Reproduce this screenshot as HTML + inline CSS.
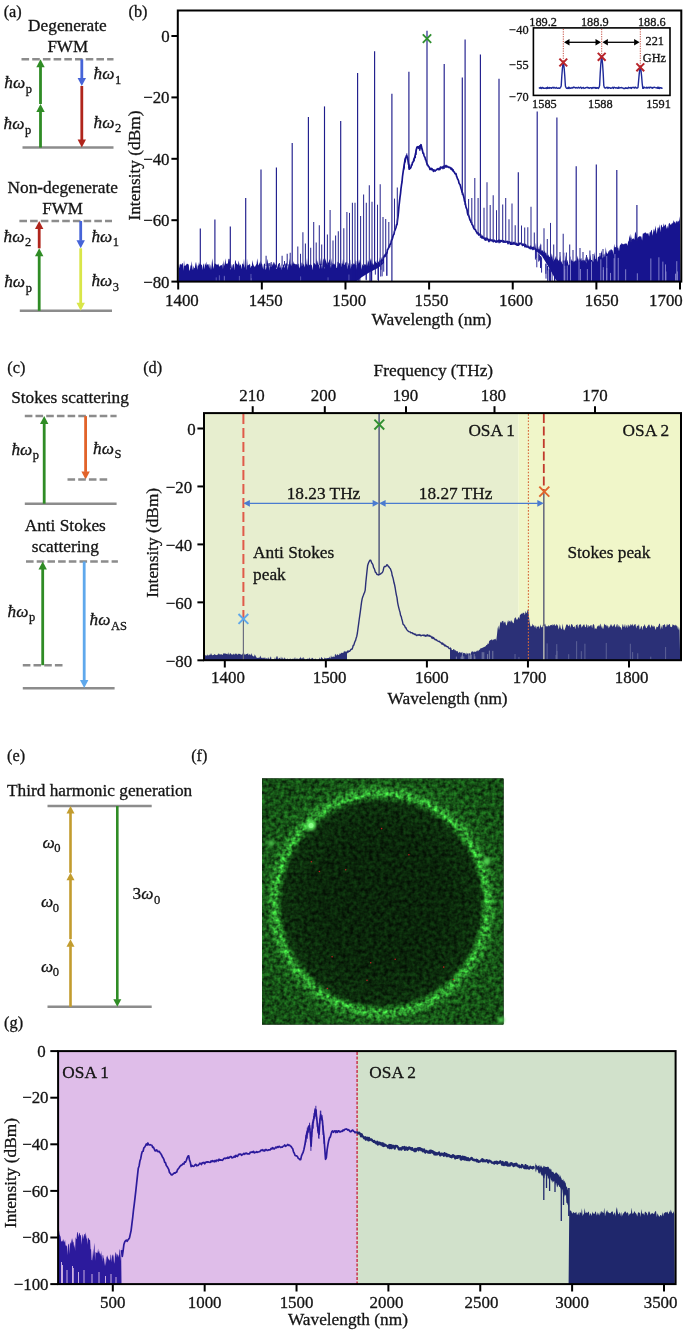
<!DOCTYPE html>
<html><head><meta charset="utf-8"><style>
html,body{margin:0;padding:0;background:#fff;}
svg{display:block;font-family:"Liberation Serif",serif;filter:blur(0.4px);}
text{stroke:#141414;stroke-width:0.3px;}
</style></head><body>
<svg width="685" height="1335" viewBox="0 0 685 1335">
<rect width="685" height="1335" fill="#fff"/>
<text x="3.70" y="16.80" font-size="16.3" fill="#141414" >(a)</text>
<text x="28.10" y="30.60" font-size="17.3" fill="#141414" >Degenerate</text>
<text x="47.40" y="51.70" font-size="17.0" fill="#141414" >FWM</text>
<line x1="21.50" y1="59.30" x2="113.50" y2="59.30" stroke="#8c8c8c" stroke-width="2.5" stroke-dasharray="7.6,3.1"/>
<line x1="22.50" y1="147.60" x2="113.50" y2="147.60" stroke="#8c8c8c" stroke-width="2.5" />
<line x1="40.50" y1="147.60" x2="40.50" y2="111.50" stroke="#2f8c25" stroke-width="2.8" />
<polygon points="36.3,112.0 44.7,112.0 40.5,104.0" fill="#2f8c25" />
<line x1="40.50" y1="104.00" x2="40.50" y2="66.80" stroke="#2f8c25" stroke-width="2.8" />
<polygon points="36.3,67.3 44.7,67.3 40.5,59.3" fill="#2f8c25" />
<line x1="81.80" y1="59.30" x2="81.80" y2="78.50" stroke="#4664d8" stroke-width="2.8" />
<polygon points="77.6,78.0 86.0,78.0 81.8,86.0" fill="#4664d8" />
<line x1="81.80" y1="86.00" x2="81.80" y2="140.10" stroke="#b0251c" stroke-width="2.8" />
<polygon points="77.6,139.6 86.0,139.6 81.8,147.6" fill="#b0251c" />
<text x="4.30" y="88.40" font-size="17.3" fill="#141414"><tspan font-style="italic">ħω</tspan><tspan font-size="12.5" dx="0.6" dy="4.4">p</tspan></text>
<text x="3.60" y="129.10" font-size="17.3" fill="#141414"><tspan font-style="italic">ħω</tspan><tspan font-size="12.5" dx="0.6" dy="4.4">p</tspan></text>
<text x="93.50" y="79.10" font-size="17.3" fill="#141414"><tspan font-style="italic">ħω</tspan><tspan font-size="12.5" dx="0.6" dy="4.4">1</tspan></text>
<text x="93.50" y="127.60" font-size="17.3" fill="#141414"><tspan font-style="italic">ħω</tspan><tspan font-size="12.5" dx="0.6" dy="4.4">2</tspan></text>
<text x="7.60" y="193.30" font-size="17.3" fill="#141414" >Non-degenerate</text>
<text x="42.30" y="214.40" font-size="17.0" fill="#141414" >FWM</text>
<line x1="19.40" y1="221.00" x2="112.00" y2="221.00" stroke="#8c8c8c" stroke-width="2.5" stroke-dasharray="7.6,3.1"/>
<line x1="19.80" y1="310.80" x2="112.00" y2="310.80" stroke="#8c8c8c" stroke-width="2.5" />
<line x1="39.20" y1="310.80" x2="39.20" y2="255.80" stroke="#2f8c25" stroke-width="2.8" />
<polygon points="35.0,256.3 43.4,256.3 39.2,248.3" fill="#2f8c25" />
<line x1="39.20" y1="248.30" x2="39.20" y2="228.50" stroke="#b0251c" stroke-width="2.8" />
<polygon points="35.0,229.0 43.4,229.0 39.2,221.0" fill="#b0251c" />
<line x1="80.70" y1="221.00" x2="80.70" y2="240.80" stroke="#4664d8" stroke-width="2.8" />
<polygon points="76.5,240.3 84.9,240.3 80.7,248.3" fill="#4664d8" />
<line x1="80.70" y1="248.30" x2="80.70" y2="303.30" stroke="#d9e649" stroke-width="2.8" />
<polygon points="76.5,302.8 84.9,302.8 80.7,310.8" fill="#d9e649" />
<text x="3.60" y="241.50" font-size="17.3" fill="#141414"><tspan font-style="italic">ħω</tspan><tspan font-size="12.5" dx="0.6" dy="4.4">2</tspan></text>
<text x="4.20" y="287.40" font-size="17.3" fill="#141414"><tspan font-style="italic">ħω</tspan><tspan font-size="12.5" dx="0.6" dy="4.4">p</tspan></text>
<text x="91.40" y="241.50" font-size="17.3" fill="#141414"><tspan font-style="italic">ħω</tspan><tspan font-size="12.5" dx="0.6" dy="4.4">1</tspan></text>
<text x="91.40" y="286.20" font-size="17.3" fill="#141414"><tspan font-style="italic">ħω</tspan><tspan font-size="12.5" dx="0.6" dy="4.4">3</tspan></text>
<text x="7.30" y="372.90" font-size="16.3" fill="#141414" >(c)</text>
<text x="143.20" y="372.90" font-size="16.3" fill="#141414" >(d)</text>
<text x="11.20" y="402.90" font-size="17.3" fill="#141414" >Stokes scattering</text>
<line x1="24.80" y1="416.10" x2="116.60" y2="416.10" stroke="#8c8c8c" stroke-width="2.5" stroke-dasharray="7.6,3.1"/>
<line x1="24.80" y1="503.70" x2="116.60" y2="503.70" stroke="#8c8c8c" stroke-width="2.5" />
<line x1="44.20" y1="503.70" x2="44.20" y2="423.60" stroke="#2f8c25" stroke-width="2.8" />
<polygon points="40.0,424.1 48.4,424.1 44.2,416.1" fill="#2f8c25" />
<line x1="85.60" y1="416.10" x2="85.60" y2="471.90" stroke="#e2632a" stroke-width="2.8" />
<polygon points="81.4,471.4 89.8,471.4 85.6,479.4" fill="#e2632a" />
<line x1="67.50" y1="479.40" x2="108.40" y2="479.40" stroke="#8c8c8c" stroke-width="2.5" stroke-dasharray="7.6,3.1"/>
<text x="11.40" y="454.80" font-size="17.3" fill="#141414"><tspan font-style="italic">ħω</tspan><tspan font-size="12.5" dx="0.6" dy="4.4">p</tspan></text>
<text x="93.00" y="453.90" font-size="17.3" fill="#141414"><tspan font-style="italic">ħω</tspan><tspan font-size="12.5" dx="0.6" dy="4.4">S</tspan></text>
<text x="24.70" y="530.90" font-size="17.3" fill="#141414" >Anti Stokes</text>
<text x="31.70" y="551.70" font-size="17.3" fill="#141414" >scattering</text>
<line x1="26.00" y1="561.50" x2="117.90" y2="561.50" stroke="#8c8c8c" stroke-width="2.5" stroke-dasharray="7.6,3.1"/>
<line x1="22.80" y1="665.20" x2="64.00" y2="665.20" stroke="#8c8c8c" stroke-width="2.5" stroke-dasharray="7.6,3.1"/>
<line x1="22.80" y1="688.20" x2="114.60" y2="688.20" stroke="#8c8c8c" stroke-width="2.5" />
<line x1="42.70" y1="665.20" x2="42.70" y2="569.00" stroke="#2f8c25" stroke-width="2.8" />
<polygon points="38.5,569.5 46.9,569.5 42.7,561.5" fill="#2f8c25" />
<line x1="84.20" y1="561.50" x2="84.20" y2="680.50" stroke="#5fa8ec" stroke-width="2.8" />
<polygon points="80.0,680.0 88.4,680.0 84.2,688.0" fill="#5fa8ec" />
<text x="7.60" y="616.80" font-size="17.3" fill="#141414"><tspan font-style="italic">ħω</tspan><tspan font-size="12.5" dx="0.6" dy="4.4">p</tspan></text>
<text x="89.60" y="625.30" font-size="17.3" fill="#141414"><tspan font-style="italic">ħω</tspan><tspan font-size="12.5" dx="0.6" dy="4.4">AS</tspan></text>
<text x="7.00" y="760.60" font-size="16.3" fill="#141414" >(e)</text>
<text x="191.20" y="760.60" font-size="16.3" fill="#141414" >(f)</text>
<text x="7.00" y="795.60" font-size="17.3" fill="#141414" >Third harmonic generation</text>
<line x1="47.50" y1="806.00" x2="151.70" y2="806.00" stroke="#8c8c8c" stroke-width="2.5" />
<line x1="47.50" y1="1006.80" x2="151.70" y2="1006.80" stroke="#8c8c8c" stroke-width="2.5" />
<line x1="70.50" y1="1006.80" x2="70.50" y2="946.20" stroke="#c29c2e" stroke-width="2.6" />
<polygon points="66.5,946.7 74.5,946.7 70.5,939.2" fill="#c29c2e" />
<line x1="70.50" y1="939.20" x2="70.50" y2="879.80" stroke="#c29c2e" stroke-width="2.6" />
<polygon points="66.5,880.3 74.5,880.3 70.5,872.8" fill="#c29c2e" />
<line x1="70.50" y1="872.80" x2="70.50" y2="813.00" stroke="#c29c2e" stroke-width="2.6" />
<polygon points="66.5,813.5 74.5,813.5 70.5,806.0" fill="#c29c2e" />
<line x1="117.30" y1="806.00" x2="117.30" y2="999.80" stroke="#2f8c25" stroke-width="2.6" />
<polygon points="113.3,999.3 121.3,999.3 117.3,1006.8" fill="#2f8c25" />
<text x="42.50" y="848.00" font-size="17.3" fill="#141414"><tspan font-style="italic">ω</tspan><tspan font-size="12.5" dx="-0.4" dy="4.4">0</tspan></text>
<text x="41.00" y="907.30" font-size="17.3" fill="#141414"><tspan font-style="italic">ω</tspan><tspan font-size="12.5" dx="-0.4" dy="4.4">0</tspan></text>
<text x="41.00" y="971.60" font-size="17.3" fill="#141414"><tspan font-style="italic">ω</tspan><tspan font-size="12.5" dx="-0.4" dy="4.4">0</tspan></text>
<text x="132.60" y="899.10" font-size="17.3" fill="#141414"><tspan>3</tspan><tspan font-style="italic">ω</tspan><tspan font-size="12.5" dx="0.6" dy="4.4">0</tspan></text>
<text x="128.50" y="17.10" font-size="16.3" fill="#141414" >(b)</text>
<polygon points="178.6,264.3 179.2,268.3 179.8,264.2 180.4,264.5 181.0,263.6 181.6,265.1 182.2,263.6 182.8,262.8 183.4,270.8 184.0,259.9 184.6,266.0 185.2,265.8 185.8,265.3 186.4,264.6 187.0,263.5 187.6,264.1 188.2,264.0 188.8,265.2 189.4,271.0 190.0,269.5 190.6,265.3 191.2,265.8 191.8,261.0 192.4,267.9 193.0,270.2 193.6,265.4 194.2,268.3 194.8,268.0 195.4,264.1 196.0,261.7 196.6,265.0 197.2,269.8 197.8,265.3 198.4,265.8 199.0,262.1 199.6,264.7 200.2,263.8 200.8,264.1 201.4,264.7 202.0,265.2 202.6,270.0 203.2,263.3 203.8,264.8 204.4,269.2 205.0,263.0 205.6,265.2 206.2,261.4 206.8,265.8 207.4,264.3 208.0,264.2 208.6,264.6 209.2,268.4 209.8,263.4 210.4,265.5 211.0,270.1 211.6,265.4 212.2,258.3 212.8,263.1 213.4,269.0 214.0,265.7 214.6,263.1 215.2,263.9 215.8,263.5 216.4,265.1 217.0,263.8 217.6,265.3 218.2,263.4 218.8,265.2 219.4,267.0 220.0,265.2 220.6,265.8 221.2,264.9 221.8,265.6 222.4,263.3 223.0,269.3 223.6,260.1 224.2,265.9 224.8,263.3 225.4,258.2 226.0,264.1 226.6,263.8 227.2,263.0 227.8,264.4 228.4,258.5 229.0,259.5 229.6,258.4 230.2,263.9 230.8,270.4 231.4,263.6 232.0,268.9 232.6,264.9 233.2,264.2 233.8,264.1 234.4,270.4 235.0,261.1 235.6,260.1 236.2,263.5 236.8,263.7 237.4,264.2 238.0,265.3 238.6,260.5 239.2,263.2 239.8,266.0 240.4,264.0 241.0,265.5 241.6,269.3 242.2,263.3 242.8,264.0 243.4,264.7 244.0,258.4 244.6,267.9 245.2,265.1 245.8,264.5 246.4,270.2 247.0,258.2 247.6,265.5 248.2,265.2 248.8,264.8 249.4,264.5 250.0,263.5 250.6,268.3 251.2,265.9 251.8,266.2 252.4,260.1 253.0,263.6 253.6,265.6 254.2,265.9 254.8,267.2 255.4,265.9 256.0,264.7 256.6,264.0 257.2,258.2 257.8,262.0 258.4,265.5 259.0,264.6 259.6,262.1 260.2,265.0 260.8,260.4 261.4,263.7 262.0,263.6 262.6,266.4 263.2,269.6 263.8,264.6 264.4,263.2 265.0,264.2 265.6,269.9 266.2,268.2 266.8,261.9 267.4,258.8 268.0,263.7 268.6,263.2 269.2,270.8 269.8,263.5 270.4,263.1 271.0,267.6 271.6,264.5 272.2,263.5 272.8,265.8 273.4,262.5 274.0,262.0 274.6,263.5 275.2,265.4 275.8,263.6 276.4,269.2 277.0,268.3 277.6,266.2 278.2,264.2 278.8,263.6 279.4,264.2 280.0,268.5 280.6,264.6 281.2,270.2 281.8,263.2 282.4,268.3 283.0,265.1 283.6,264.2 284.2,265.6 284.8,268.3 285.4,263.3 286.0,264.2 286.6,262.3 287.2,264.4 287.8,270.3 288.4,264.2 289.0,264.3 289.6,258.1 290.2,264.7 290.8,263.8 291.4,266.3 292.0,262.5 292.6,264.9 293.2,261.0 293.8,263.7 294.4,263.4 295.0,264.0 295.6,265.0 296.2,264.2 296.8,264.3 297.4,265.1 298.0,263.6 298.6,263.9 299.2,268.6 299.8,266.7 300.4,258.4 301.0,267.1 301.6,262.7 302.2,262.5 302.8,266.1 303.4,263.3 304.0,265.1 304.6,267.5 305.2,261.8 305.8,263.3 306.4,264.8 307.0,257.8 307.6,265.9 308.2,263.1 308.8,263.3 309.4,265.1 310.0,265.2 310.6,263.8 311.2,264.9 311.8,264.7 312.4,270.2 313.0,265.7 313.6,262.4 314.2,263.0 314.8,263.8 315.4,263.9 316.0,265.2 316.6,258.0 317.2,263.8 317.8,260.2 318.4,264.7 319.0,265.1 319.6,269.2 320.2,257.8 320.8,263.9 321.4,263.6 322.0,269.1 322.6,262.4 323.2,258.2 323.8,260.1 324.4,269.5 325.0,258.2 325.6,260.0 326.2,261.7 326.8,263.6 327.4,264.0 328.0,263.1 328.6,262.2 329.2,260.3 329.8,259.1 330.4,263.8 331.0,268.2 331.6,258.1 332.2,265.1 332.8,262.7 333.4,263.7 334.0,264.3 334.6,264.6 335.2,262.2 335.8,263.4 336.4,267.7 337.0,268.0 337.6,261.5 338.2,262.6 338.8,262.0 339.4,263.4 340.0,263.3 340.6,264.6 341.2,266.9 341.8,263.0 342.4,264.0 343.0,259.0 343.6,262.7 344.2,264.8 344.8,264.7 345.4,262.6 346.0,262.2 346.6,261.6 347.2,269.6 347.8,262.2 348.4,263.5 349.0,266.1 349.6,262.1 350.2,259.6 350.8,269.0 351.4,264.6 352.0,263.6 352.6,264.8 353.2,264.6 353.8,262.9 354.4,264.2 355.0,263.7 355.6,259.3 356.2,269.7 356.8,260.8 357.4,262.3 358.0,258.9 358.6,264.2 359.2,259.2 359.8,263.1 360.4,261.1 361.0,262.3 361.6,269.7 362.2,265.3 362.8,264.3 363.4,265.4 364.0,265.6 364.6,264.0 365.2,264.2 365.8,264.8 366.4,265.3 367.0,259.3 367.6,266.0 368.2,260.2 368.8,262.1 369.4,265.3 370.0,261.1 370.6,257.9 371.2,264.1 371.8,258.0 372.4,264.4 373.0,262.7 373.6,265.0 374.2,263.7 374.8,260.5 375.4,261.4 376.0,262.5 376.6,263.3 377.2,257.4 377.8,263.2 378.4,261.1 379.0,262.6 379.6,256.9 380.2,267.1 380.8,264.3 381.4,256.8 382.0,259.2 382.6,263.8 383.2,257.3 383.8,256.3 384.0,263.0 378.0,268.0 370.0,272.0 362.0,277.0 356.0,281.6 178.5,281.6" fill="#17148f" />
<line x1="366.24" y1="266.34" x2="366.24" y2="280.36" stroke="#17148f" stroke-width="0.9" />
<line x1="359.02" y1="264.99" x2="359.02" y2="281.60" stroke="#17148f" stroke-width="0.9" />
<line x1="380.69" y1="262.15" x2="380.69" y2="276.57" stroke="#17148f" stroke-width="0.9" />
<line x1="382.11" y1="260.17" x2="382.11" y2="276.30" stroke="#17148f" stroke-width="0.9" />
<line x1="358.36" y1="264.98" x2="358.36" y2="281.60" stroke="#17148f" stroke-width="0.9" />
<line x1="383.71" y1="257.53" x2="383.71" y2="271.70" stroke="#17148f" stroke-width="0.9" />
<line x1="352.80" y1="264.93" x2="352.80" y2="281.60" stroke="#17148f" stroke-width="0.9" />
<line x1="371.59" y1="265.64" x2="371.59" y2="280.68" stroke="#17148f" stroke-width="0.9" />
<line x1="386.79" y1="252.38" x2="386.79" y2="275.61" stroke="#17148f" stroke-width="0.9" />
<line x1="380.96" y1="262.02" x2="380.96" y2="269.79" stroke="#17148f" stroke-width="0.9" />
<line x1="371.69" y1="265.62" x2="371.69" y2="281.60" stroke="#17148f" stroke-width="0.9" />
<line x1="355.03" y1="264.95" x2="355.03" y2="280.68" stroke="#17148f" stroke-width="0.9" />
<line x1="378.53" y1="263.23" x2="378.53" y2="281.60" stroke="#17148f" stroke-width="0.9" />
<line x1="355.05" y1="264.95" x2="355.05" y2="281.60" stroke="#17148f" stroke-width="0.9" />
<line x1="357.18" y1="264.97" x2="357.18" y2="281.60" stroke="#17148f" stroke-width="0.9" />
<line x1="375.36" y1="264.82" x2="375.36" y2="274.62" stroke="#17148f" stroke-width="0.9" />
<line x1="359.94" y1="265.00" x2="359.94" y2="281.60" stroke="#17148f" stroke-width="0.9" />
<line x1="370.78" y1="265.79" x2="370.78" y2="281.60" stroke="#17148f" stroke-width="0.9" />
<line x1="366.20" y1="266.33" x2="366.20" y2="279.68" stroke="#17148f" stroke-width="0.9" />
<line x1="386.86" y1="252.23" x2="386.86" y2="275.88" stroke="#17148f" stroke-width="0.9" />
<line x1="369.77" y1="265.98" x2="369.77" y2="281.01" stroke="#17148f" stroke-width="0.9" />
<line x1="377.95" y1="263.52" x2="377.95" y2="280.04" stroke="#17148f" stroke-width="0.9" />
<polygon points="535.0,250.8 535.7,242.4 536.4,252.9 537.1,241.6 537.8,252.8 538.5,248.4 539.2,245.3 539.9,250.6 540.6,242.4 541.3,251.4 542.0,251.1 542.7,249.9 543.4,252.4 544.1,251.9 544.8,250.2 545.5,253.4 546.2,252.5 546.9,255.4 547.6,255.6 548.3,254.6 549.0,256.5 549.7,256.9 550.4,255.9 551.1,257.0 551.8,253.3 552.5,257.0 553.2,261.5 553.9,257.8 554.6,260.2 555.3,258.1 556.0,255.8 556.7,259.7 557.4,258.4 558.1,260.8 558.8,260.2 559.5,259.4 560.2,255.3 560.9,261.6 561.6,261.4 562.3,264.4 563.0,259.5 563.7,261.0 564.4,260.5 565.1,260.5 565.8,255.1 566.5,262.4 567.2,259.8 567.9,262.0 568.6,265.6 569.3,264.4 570.0,257.6 570.7,263.4 571.4,258.7 572.1,261.3 572.8,260.4 573.5,261.8 574.2,261.8 574.9,260.5 575.6,260.5 576.3,261.3 577.0,259.5 577.7,255.4 578.4,261.1 579.1,257.8 579.8,260.8 580.5,259.1 581.2,257.7 581.9,261.0 582.6,260.1 583.3,260.6 584.0,259.6 584.7,260.9 585.4,256.4 586.1,263.5 586.8,256.2 587.5,257.5 588.2,260.7 588.9,258.7 589.6,259.5 590.3,254.1 591.0,259.8 591.7,260.0 592.4,260.1 593.1,261.9 593.8,258.2 594.5,252.1 595.2,258.7 595.9,259.3 596.6,257.0 597.3,261.9 598.0,256.6 598.7,257.1 599.4,255.9 600.1,256.4 600.8,254.8 601.5,250.2 602.2,254.3 602.9,258.5 603.6,254.5 604.3,253.5 605.0,257.4 605.7,247.0 606.4,251.9 607.1,253.8 607.8,253.4 608.5,251.6 609.2,250.5 609.9,251.5 610.6,249.5 611.3,249.3 612.0,249.9 612.7,250.4 613.4,254.8 614.1,243.8 614.8,247.5 615.5,246.9 616.2,247.4 616.9,244.6 617.6,248.1 618.3,247.4 619.0,251.2 619.7,246.1 620.4,244.4 621.1,244.5 621.8,242.8 622.5,244.2 623.2,244.1 623.9,244.4 624.6,243.8 625.3,243.3 626.0,243.9 626.7,243.3 627.4,245.8 628.1,241.8 628.8,240.7 629.5,234.9 630.2,239.1 630.9,233.7 631.6,240.2 632.3,238.5 633.0,239.3 633.7,237.9 634.4,240.1 635.1,231.6 635.8,233.0 636.5,234.4 637.2,238.7 637.9,237.3 638.6,237.1 639.3,235.8 640.0,236.9 640.7,236.1 641.4,236.7 642.1,240.4 642.8,233.6 643.5,233.5 644.2,233.3 644.9,232.5 645.6,232.5 646.3,232.9 647.0,234.2 647.7,233.0 648.4,233.4 649.1,236.5 649.8,231.9 650.5,232.5 651.2,229.7 651.9,230.6 652.6,235.7 653.3,230.9 654.0,228.5 654.7,231.8 655.4,225.6 656.1,229.9 656.8,234.1 657.5,227.9 658.2,226.9 658.9,228.9 659.6,224.1 660.3,232.2 661.0,224.6 661.7,225.3 662.4,227.6 663.1,226.7 663.8,223.3 664.5,226.5 665.2,224.6 665.9,224.8 666.6,228.9 667.3,225.4 668.0,228.8 668.7,224.0 669.4,222.7 670.1,223.9 670.8,225.1 671.5,224.1 672.2,222.4 672.9,223.7 673.6,219.9 674.3,222.5 675.0,221.2 675.7,223.8 676.4,221.2 677.1,220.4 677.8,222.5 678.5,220.9 679.2,220.6 679.9,216.2 680.5,281.6 557.0,281.6 553.0,275.0 548.0,266.0 542.0,256.0 535.0,250.0" fill="#17148f" />
<line x1="547.64" y1="266.16" x2="547.64" y2="281.60" stroke="#17148f" stroke-width="0.9" />
<line x1="552.11" y1="272.57" x2="552.11" y2="281.60" stroke="#17148f" stroke-width="0.9" />
<line x1="558.79" y1="279.60" x2="558.79" y2="281.60" stroke="#17148f" stroke-width="0.9" />
<line x1="554.49" y1="276.00" x2="554.49" y2="281.60" stroke="#17148f" stroke-width="0.9" />
<line x1="550.20" y1="269.84" x2="550.20" y2="277.13" stroke="#17148f" stroke-width="0.9" />
<line x1="546.01" y1="263.82" x2="546.01" y2="278.64" stroke="#17148f" stroke-width="0.9" />
<line x1="554.66" y1="276.24" x2="554.66" y2="281.60" stroke="#17148f" stroke-width="0.9" />
<line x1="540.90" y1="256.47" x2="540.90" y2="267.32" stroke="#17148f" stroke-width="0.9" />
<line x1="540.53" y1="255.94" x2="540.53" y2="268.07" stroke="#17148f" stroke-width="0.9" />
<line x1="547.47" y1="265.92" x2="547.47" y2="270.41" stroke="#17148f" stroke-width="0.9" />
<line x1="549.92" y1="269.43" x2="549.92" y2="281.60" stroke="#17148f" stroke-width="0.9" />
<line x1="549.32" y1="268.56" x2="549.32" y2="281.60" stroke="#17148f" stroke-width="0.9" />
<line x1="539.50" y1="254.46" x2="539.50" y2="260.59" stroke="#17148f" stroke-width="0.9" />
<line x1="535.44" y1="248.64" x2="535.44" y2="259.58" stroke="#17148f" stroke-width="0.9" />
<line x1="545.87" y1="263.61" x2="545.87" y2="273.79" stroke="#17148f" stroke-width="0.9" />
<line x1="541.57" y1="257.44" x2="541.57" y2="272.62" stroke="#17148f" stroke-width="0.9" />
<line x1="536.81" y1="250.60" x2="536.81" y2="267.31" stroke="#17148f" stroke-width="0.9" />
<line x1="549.22" y1="268.43" x2="549.22" y2="280.03" stroke="#17148f" stroke-width="0.9" />
<line x1="554.79" y1="276.43" x2="554.79" y2="281.60" stroke="#17148f" stroke-width="0.9" />
<line x1="538.66" y1="253.25" x2="538.66" y2="261.61" stroke="#17148f" stroke-width="0.9" />
<line x1="536.06" y1="249.52" x2="536.06" y2="257.92" stroke="#17148f" stroke-width="0.9" />
<line x1="550.53" y1="270.31" x2="550.53" y2="281.60" stroke="#17148f" stroke-width="0.9" />
<line x1="591.50" y1="280.60" x2="591.50" y2="261.65" stroke="#8c8ad0" stroke-width="0.9" />
<line x1="570.53" y1="280.60" x2="570.53" y2="256.55" stroke="#8c8ad0" stroke-width="0.9" />
<line x1="580.42" y1="280.60" x2="580.42" y2="268.99" stroke="#8c8ad0" stroke-width="0.9" />
<line x1="579.02" y1="280.60" x2="579.02" y2="259.41" stroke="#8c8ad0" stroke-width="0.9" />
<line x1="658.88" y1="280.60" x2="658.88" y2="257.29" stroke="#8c8ad0" stroke-width="0.9" />
<line x1="567.28" y1="280.60" x2="567.28" y2="265.57" stroke="#8c8ad0" stroke-width="0.9" />
<line x1="603.37" y1="280.60" x2="603.37" y2="269.84" stroke="#8c8ad0" stroke-width="0.9" />
<line x1="675.49" y1="280.60" x2="675.49" y2="273.67" stroke="#8c8ad0" stroke-width="0.9" />
<line x1="618.26" y1="280.60" x2="618.26" y2="257.85" stroke="#8c8ad0" stroke-width="0.9" />
<line x1="677.36" y1="280.60" x2="677.36" y2="271.42" stroke="#8c8ad0" stroke-width="0.9" />
<line x1="614.18" y1="280.60" x2="614.18" y2="258.21" stroke="#8c8ad0" stroke-width="0.9" />
<line x1="564.67" y1="280.60" x2="564.67" y2="269.31" stroke="#8c8ad0" stroke-width="0.9" />
<line x1="665.92" y1="280.60" x2="665.92" y2="271.49" stroke="#8c8ad0" stroke-width="0.9" />
<line x1="606.76" y1="280.60" x2="606.76" y2="268.04" stroke="#8c8ad0" stroke-width="0.9" />
<line x1="610.51" y1="280.60" x2="610.51" y2="272.92" stroke="#8c8ad0" stroke-width="0.9" />
<line x1="564.08" y1="280.60" x2="564.08" y2="252.69" stroke="#8c8ad0" stroke-width="0.9" />
<line x1="650.83" y1="280.60" x2="650.83" y2="258.45" stroke="#8c8ad0" stroke-width="0.9" />
<line x1="587.36" y1="280.60" x2="587.36" y2="269.03" stroke="#8c8ad0" stroke-width="0.9" />
<line x1="625.67" y1="280.60" x2="625.67" y2="269.28" stroke="#8c8ad0" stroke-width="0.9" />
<line x1="614.93" y1="280.60" x2="614.93" y2="254.09" stroke="#8c8ad0" stroke-width="0.9" />
<line x1="603.32" y1="280.60" x2="603.32" y2="267.18" stroke="#8c8ad0" stroke-width="0.9" />
<line x1="676.77" y1="280.60" x2="676.77" y2="261.16" stroke="#8c8ad0" stroke-width="0.9" />
<line x1="564.72" y1="280.60" x2="564.72" y2="265.73" stroke="#8c8ad0" stroke-width="0.9" />
<line x1="637.33" y1="280.60" x2="637.33" y2="273.31" stroke="#8c8ad0" stroke-width="0.9" />
<line x1="600.84" y1="280.60" x2="600.84" y2="259.32" stroke="#8c8ad0" stroke-width="0.9" />
<line x1="662.87" y1="280.60" x2="662.87" y2="261.61" stroke="#8c8ad0" stroke-width="0.9" />
<line x1="665.48" y1="280.60" x2="665.48" y2="264.42" stroke="#8c8ad0" stroke-width="0.9" />
<line x1="606.76" y1="280.60" x2="606.76" y2="256.05" stroke="#8c8ad0" stroke-width="0.9" />
<line x1="250.98" y1="280.60" x2="250.98" y2="273.91" stroke="#6a68c0" stroke-width="0.8" />
<line x1="224.46" y1="280.60" x2="224.46" y2="276.52" stroke="#6a68c0" stroke-width="0.8" />
<line x1="219.38" y1="280.60" x2="219.38" y2="275.30" stroke="#6a68c0" stroke-width="0.8" />
<line x1="216.22" y1="280.60" x2="216.22" y2="277.38" stroke="#6a68c0" stroke-width="0.8" />
<line x1="224.31" y1="280.60" x2="224.31" y2="275.79" stroke="#6a68c0" stroke-width="0.8" />
<line x1="239.37" y1="280.60" x2="239.37" y2="275.92" stroke="#6a68c0" stroke-width="0.8" />
<line x1="348.93" y1="280.60" x2="348.93" y2="274.52" stroke="#6a68c0" stroke-width="0.8" />
<line x1="328.04" y1="280.60" x2="328.04" y2="277.37" stroke="#6a68c0" stroke-width="0.8" />
<line x1="251.27" y1="280.60" x2="251.27" y2="278.16" stroke="#6a68c0" stroke-width="0.8" />
<line x1="300.62" y1="280.60" x2="300.62" y2="276.42" stroke="#6a68c0" stroke-width="0.8" />
<polyline points="380.0,262.0 380.5,261.1 381.0,261.2 381.5,260.6 382.0,260.1 382.5,260.5 383.0,259.2 383.5,257.3 384.0,256.7 384.5,255.4 385.0,256.5 385.5,254.2 386.0,254.4 386.5,253.5 387.0,252.9 387.5,249.6 388.0,249.1 388.5,248.1 389.0,246.1 389.5,246.9 390.0,244.4 390.5,244.2 391.0,242.4 391.5,240.1 392.0,239.8 392.5,238.2 393.0,236.2 393.5,234.8 394.0,234.2 394.5,231.2 395.0,230.2 395.5,228.8 396.0,227.5 396.5,224.8 397.0,224.6 397.5,220.1 398.0,216.6 398.5,211.9 399.0,206.0 399.5,201.6 400.0,197.2 400.5,193.6 401.0,188.7 401.5,184.8 402.0,182.0 402.5,176.5 403.0,172.8 403.5,169.4 404.0,166.3 404.5,163.0 405.0,160.2 405.5,159.1 406.0,157.0 406.5,155.5 407.0,156.5 407.5,157.2 408.0,160.6 408.5,164.3 409.0,165.7 409.5,169.1 410.0,168.3 410.5,168.2 411.0,167.2 411.5,164.9 412.0,165.0 412.5,162.5 413.0,162.1 413.5,160.8 414.0,158.8 414.5,158.3 415.0,155.9 415.5,154.1 416.0,151.3 416.5,148.8 417.0,147.1 417.5,147.0 418.0,146.6 418.5,148.0 419.0,147.2 419.5,146.4 420.0,146.4 420.5,146.0 421.0,144.7 421.5,146.7 422.0,149.1 422.5,150.8 423.0,153.2 423.5,153.2 424.0,155.5 424.5,156.8 425.0,157.4 425.5,159.6 426.0,160.1 426.5,162.3 427.0,163.7 427.5,164.6 428.0,165.5 428.5,166.5 429.0,166.8 429.5,167.8 430.0,169.4 430.5,168.8 431.0,168.4 431.5,169.6 432.0,168.7 432.5,169.6 433.0,170.2 433.5,171.3 434.0,170.0 434.5,170.4 435.0,171.1 435.5,170.5 436.0,170.0 436.5,169.9 437.0,169.2 437.5,169.1 438.0,168.6 438.5,169.7 439.0,169.7 439.5,168.3 440.0,169.4 440.5,167.2 441.0,167.2 441.5,167.9 442.0,167.3 442.5,167.2 443.0,168.5 443.5,166.4 444.0,166.3 444.5,166.2 445.0,167.1 445.5,166.0 446.0,165.5 446.5,166.9 447.0,166.6 447.5,166.3 448.0,167.0 448.5,167.4 449.0,167.2 449.5,167.5 450.0,167.4 450.5,168.3 451.0,169.2 451.5,168.2 452.0,168.8 452.5,170.6 453.0,169.8 453.5,171.3 454.0,171.8 454.5,172.4 455.0,173.6 455.5,173.9 456.0,173.7 456.5,176.1 457.0,177.2 457.5,178.7 458.0,179.5 458.5,180.7 459.0,183.1 459.5,183.9 460.0,184.6 460.5,186.3 461.0,188.2 461.5,189.6 462.0,192.1 462.5,192.8 463.0,194.4 463.5,196.1 464.0,197.9 464.5,201.2 465.0,201.7 465.5,204.4 466.0,207.1 466.5,208.3 467.0,209.5 467.5,213.1 468.0,215.0 468.5,214.9 469.0,216.5 469.5,218.3 470.0,220.1 470.5,220.3 471.0,222.3 471.5,222.3 472.0,224.6 472.5,224.9 473.0,225.9 473.5,227.7 474.0,228.6 474.5,229.3 475.0,229.4 475.5,229.8 476.0,231.2 476.5,231.8 477.0,233.0 477.5,233.7 478.0,232.8 478.5,234.0 479.0,235.0 479.5,234.3 480.0,234.6 480.5,234.6 481.0,236.3 481.5,237.5 482.0,238.0 482.5,236.3 483.0,238.0 483.5,237.7 484.0,238.5 484.5,238.2 485.0,239.7 485.5,240.0 486.0,238.0 486.5,239.8 487.0,238.6 487.5,238.6 488.0,239.4 488.5,240.7 489.0,241.6 489.5,239.5 490.0,240.1 490.5,239.4 491.0,240.7 491.5,240.6 492.0,240.3 492.5,240.2 493.0,241.4 493.5,241.6 494.0,240.3 494.5,240.6 495.0,241.2 495.5,241.6 496.0,242.1 496.5,240.7 497.0,241.5 497.5,241.2 498.0,241.8 498.5,240.3 499.0,240.4 499.5,240.3 500.0,242.3 500.5,240.7 501.0,241.4 501.5,240.6 502.0,241.2 502.5,240.5 503.0,241.9 503.5,241.0 504.0,242.2 504.5,241.5 505.0,241.4 505.5,242.1 506.0,241.9 506.5,241.8 507.0,241.4 507.5,241.5 508.0,243.6 508.5,242.2 509.0,241.8 509.5,242.1 510.0,242.9 510.5,244.2 511.0,242.4 511.5,244.1 512.0,243.3 512.5,243.2 513.0,244.2 513.5,243.2 514.0,242.5 514.5,243.7 515.0,244.1 515.5,244.1 516.0,243.3 516.5,244.9 517.0,244.8 517.5,245.2 518.0,243.9 518.5,244.9 519.0,244.7 519.5,243.5 520.0,243.2 520.5,243.6 521.0,243.6 521.5,243.5 522.0,244.3 522.5,245.4 523.0,244.5 523.5,245.1 524.0,244.1 524.5,244.7 525.0,246.7 525.5,244.6 526.0,246.0 526.5,246.8 527.0,246.9 527.5,247.0 528.0,246.3 528.5,247.4 529.0,247.7 529.5,247.7 530.0,248.4 530.5,246.4 531.0,248.7 531.5,247.6 532.0,248.5 532.5,247.6 533.0,249.4 533.5,247.4 534.0,248.9 534.5,248.3 535.0,248.9 535.5,249.0 536.0,249.9 536.5,250.5 537.0,249.6 537.5,250.5 538.0,250.0 538.5,250.0 539.0,251.7 539.5,250.5 540.0,250.1 540.5,250.9 541.0,252.2 541.5,251.3 542.0,252.9 542.5,252.8 543.0,253.5 543.5,252.6 544.0,252.8 544.5,253.2 545.0,254.1" stroke="#17148f" stroke-width="1.7" fill="none" stroke-linejoin="round" />
<line x1="405.58" y1="158.43" x2="405.58" y2="160.97" stroke="#17148f" stroke-width="1" />
<line x1="405.42" y1="158.16" x2="405.42" y2="161.73" stroke="#17148f" stroke-width="1" />
<line x1="408.71" y1="163.98" x2="408.71" y2="168.23" stroke="#17148f" stroke-width="1" />
<line x1="404.93" y1="159.45" x2="404.93" y2="163.04" stroke="#17148f" stroke-width="1" />
<line x1="408.93" y1="164.60" x2="408.93" y2="169.77" stroke="#17148f" stroke-width="1" />
<line x1="404.32" y1="163.92" x2="404.32" y2="168.27" stroke="#17148f" stroke-width="1" />
<line x1="404.07" y1="165.75" x2="404.07" y2="169.60" stroke="#17148f" stroke-width="1" />
<line x1="408.69" y1="163.45" x2="408.69" y2="165.97" stroke="#17148f" stroke-width="1" />
<line x1="405.14" y1="157.52" x2="405.14" y2="161.93" stroke="#17148f" stroke-width="1" />
<line x1="406.81" y1="153.37" x2="406.81" y2="157.44" stroke="#17148f" stroke-width="1" />
<line x1="416.12" y1="149.45" x2="416.12" y2="154.96" stroke="#17148f" stroke-width="1" />
<line x1="422.56" y1="149.00" x2="422.56" y2="153.41" stroke="#17148f" stroke-width="1" />
<line x1="419.68" y1="146.84" x2="419.68" y2="150.70" stroke="#17148f" stroke-width="1" />
<line x1="420.90" y1="144.31" x2="420.90" y2="148.67" stroke="#17148f" stroke-width="1" />
<line x1="418.19" y1="146.29" x2="418.19" y2="149.14" stroke="#17148f" stroke-width="1" />
<line x1="420.01" y1="145.06" x2="420.01" y2="149.32" stroke="#17148f" stroke-width="1" />
<line x1="414.32" y1="157.15" x2="414.32" y2="161.37" stroke="#17148f" stroke-width="1" />
<line x1="419.93" y1="145.08" x2="419.93" y2="150.66" stroke="#17148f" stroke-width="1" />
<line x1="415.52" y1="152.61" x2="415.52" y2="157.99" stroke="#17148f" stroke-width="1" />
<line x1="421.38" y1="145.10" x2="421.38" y2="149.25" stroke="#17148f" stroke-width="1" />
<line x1="266.10" y1="265.92" x2="266.10" y2="255.80" stroke="#2e2c92" stroke-width="1.05" />
<line x1="269.20" y1="265.88" x2="269.20" y2="263.00" stroke="#2e2c92" stroke-width="1.05" />
<line x1="271.20" y1="265.86" x2="271.20" y2="262.00" stroke="#2e2c92" stroke-width="1.05" />
<line x1="274.00" y1="265.82" x2="274.00" y2="264.00" stroke="#2e2c92" stroke-width="1.05" />
<line x1="279.50" y1="265.76" x2="279.50" y2="263.00" stroke="#2e2c92" stroke-width="1.05" />
<line x1="282.10" y1="265.72" x2="282.10" y2="255.80" stroke="#2e2c92" stroke-width="1.05" />
<line x1="284.50" y1="265.69" x2="284.50" y2="261.00" stroke="#2e2c92" stroke-width="1.05" />
<line x1="287.20" y1="265.66" x2="287.20" y2="253.80" stroke="#2e2c92" stroke-width="1.05" />
<line x1="290.20" y1="265.62" x2="290.20" y2="252.80" stroke="#2e2c92" stroke-width="1.05" />
<line x1="295.20" y1="265.56" x2="295.20" y2="264.00" stroke="#2e2c92" stroke-width="1.05" />
<line x1="297.80" y1="265.53" x2="297.80" y2="246.60" stroke="#2e2c92" stroke-width="1.05" />
<line x1="300.50" y1="265.49" x2="300.50" y2="253.80" stroke="#2e2c92" stroke-width="1.05" />
<line x1="302.90" y1="265.45" x2="302.90" y2="232.30" stroke="#2e2c92" stroke-width="1.05" />
<line x1="305.40" y1="265.41" x2="305.40" y2="243.60" stroke="#2e2c92" stroke-width="1.05" />
<line x1="310.70" y1="265.31" x2="310.70" y2="247.70" stroke="#2e2c92" stroke-width="1.05" />
<line x1="313.70" y1="265.26" x2="313.70" y2="222.10" stroke="#2e2c92" stroke-width="1.05" />
<line x1="316.20" y1="265.22" x2="316.20" y2="242.60" stroke="#2e2c92" stroke-width="1.05" />
<line x1="319.30" y1="265.16" x2="319.30" y2="225.20" stroke="#2e2c92" stroke-width="1.05" />
<line x1="321.70" y1="265.12" x2="321.70" y2="244.60" stroke="#2e2c92" stroke-width="1.05" />
<line x1="327.40" y1="265.02" x2="327.40" y2="234.40" stroke="#2e2c92" stroke-width="1.05" />
<line x1="330.10" y1="264.97" x2="330.10" y2="209.90" stroke="#2e2c92" stroke-width="1.05" />
<line x1="333.00" y1="264.92" x2="333.00" y2="240.50" stroke="#2e2c92" stroke-width="1.05" />
<line x1="335.60" y1="264.88" x2="335.60" y2="235.40" stroke="#2e2c92" stroke-width="1.05" />
<line x1="338.30" y1="264.83" x2="338.30" y2="231.30" stroke="#2e2c92" stroke-width="1.05" />
<line x1="343.80" y1="264.84" x2="343.80" y2="228.20" stroke="#2e2c92" stroke-width="1.05" />
<line x1="346.90" y1="264.87" x2="346.90" y2="211.90" stroke="#2e2c92" stroke-width="1.05" />
<line x1="349.50" y1="264.89" x2="349.50" y2="212.90" stroke="#2e2c92" stroke-width="1.05" />
<line x1="352.40" y1="264.92" x2="352.40" y2="202.70" stroke="#2e2c92" stroke-width="1.05" />
<line x1="355.00" y1="264.95" x2="355.00" y2="202.70" stroke="#2e2c92" stroke-width="1.05" />
<line x1="360.60" y1="265.13" x2="360.60" y2="216.00" stroke="#2e2c92" stroke-width="1.05" />
<line x1="363.60" y1="265.77" x2="363.60" y2="194.50" stroke="#2e2c92" stroke-width="1.05" />
<line x1="366.30" y1="266.35" x2="366.30" y2="202.70" stroke="#2e2c92" stroke-width="1.05" />
<line x1="369.30" y1="266.07" x2="369.30" y2="185.30" stroke="#2e2c92" stroke-width="1.05" />
<line x1="372.00" y1="265.56" x2="372.00" y2="201.70" stroke="#2e2c92" stroke-width="1.05" />
<line x1="377.50" y1="263.75" x2="377.50" y2="204.70" stroke="#2e2c92" stroke-width="1.05" />
<line x1="380.20" y1="262.40" x2="380.20" y2="184.30" stroke="#2e2c92" stroke-width="1.05" />
<line x1="383.00" y1="258.70" x2="383.00" y2="217.00" stroke="#2e2c92" stroke-width="1.05" />
<line x1="385.70" y1="254.25" x2="385.70" y2="219.00" stroke="#2e2c92" stroke-width="1.05" />
<line x1="388.80" y1="247.62" x2="388.80" y2="222.10" stroke="#2e2c92" stroke-width="1.05" />
<line x1="394.50" y1="232.32" x2="394.50" y2="198.60" stroke="#2e2c92" stroke-width="1.05" />
<line x1="397.30" y1="222.48" x2="397.30" y2="187.40" stroke="#2e2c92" stroke-width="1.05" />
<line x1="468.60" y1="216.17" x2="468.60" y2="198.90" stroke="#2e2c92" stroke-width="1.05" />
<line x1="471.80" y1="223.63" x2="471.80" y2="198.00" stroke="#2e2c92" stroke-width="1.05" />
<line x1="474.80" y1="228.98" x2="474.80" y2="178.00" stroke="#2e2c92" stroke-width="1.05" />
<line x1="478.10" y1="233.81" x2="478.10" y2="198.00" stroke="#2e2c92" stroke-width="1.05" />
<line x1="484.00" y1="238.18" x2="484.00" y2="207.80" stroke="#2e2c92" stroke-width="1.05" />
<line x1="487.00" y1="239.51" x2="487.00" y2="182.20" stroke="#2e2c92" stroke-width="1.05" />
<line x1="490.20" y1="240.49" x2="490.20" y2="204.90" stroke="#2e2c92" stroke-width="1.05" />
<line x1="493.20" y1="240.73" x2="493.20" y2="195.30" stroke="#2e2c92" stroke-width="1.05" />
<line x1="496.50" y1="240.99" x2="496.50" y2="210.20" stroke="#2e2c92" stroke-width="1.05" />
<line x1="502.70" y1="241.70" x2="502.70" y2="204.50" stroke="#2e2c92" stroke-width="1.05" />
<line x1="505.70" y1="242.21" x2="505.70" y2="198.00" stroke="#2e2c92" stroke-width="1.05" />
<line x1="509.00" y1="242.78" x2="509.00" y2="219.20" stroke="#2e2c92" stroke-width="1.05" />
<line x1="512.00" y1="243.30" x2="512.00" y2="203.60" stroke="#2e2c92" stroke-width="1.05" />
<line x1="515.20" y1="243.72" x2="515.20" y2="225.20" stroke="#2e2c92" stroke-width="1.05" />
<line x1="521.50" y1="244.53" x2="521.50" y2="225.50" stroke="#2e2c92" stroke-width="1.05" />
<line x1="524.70" y1="245.48" x2="524.70" y2="227.50" stroke="#2e2c92" stroke-width="1.05" />
<line x1="527.80" y1="246.48" x2="527.80" y2="227.30" stroke="#2e2c92" stroke-width="1.05" />
<line x1="531.00" y1="247.59" x2="531.00" y2="206.70" stroke="#2e2c92" stroke-width="1.05" />
<line x1="534.30" y1="248.88" x2="534.30" y2="232.40" stroke="#2e2c92" stroke-width="1.05" />
<line x1="540.80" y1="251.51" x2="540.80" y2="244.50" stroke="#2e2c92" stroke-width="1.05" />
<line x1="544.00" y1="253.74" x2="544.00" y2="228.30" stroke="#2e2c92" stroke-width="1.05" />
<line x1="547.30" y1="256.03" x2="547.30" y2="239.10" stroke="#2e2c92" stroke-width="1.05" />
<line x1="550.50" y1="258.26" x2="550.50" y2="222.90" stroke="#2e2c92" stroke-width="1.05" />
<line x1="553.70" y1="260.49" x2="553.70" y2="244.50" stroke="#2e2c92" stroke-width="1.05" />
<line x1="560.00" y1="261.90" x2="560.00" y2="252.00" stroke="#2e2c92" stroke-width="1.05" />
<line x1="563.20" y1="262.54" x2="563.20" y2="233.70" stroke="#2e2c92" stroke-width="1.05" />
<line x1="566.40" y1="263.18" x2="566.40" y2="252.60" stroke="#2e2c92" stroke-width="1.05" />
<line x1="569.70" y1="263.17" x2="569.70" y2="244.50" stroke="#2e2c92" stroke-width="1.05" />
<line x1="573.00" y1="262.83" x2="573.00" y2="250.00" stroke="#2e2c92" stroke-width="1.05" />
<line x1="580.00" y1="262.10" x2="580.00" y2="248.00" stroke="#2e2c92" stroke-width="1.05" />
<line x1="583.00" y1="261.70" x2="583.00" y2="252.00" stroke="#2e2c92" stroke-width="1.05" />
<line x1="586.50" y1="261.19" x2="586.50" y2="255.00" stroke="#2e2c92" stroke-width="1.05" />
<line x1="589.90" y1="260.68" x2="589.90" y2="250.50" stroke="#2e2c92" stroke-width="1.05" />
<line x1="593.00" y1="260.22" x2="593.00" y2="254.00" stroke="#2e2c92" stroke-width="1.05" />
<line x1="600.00" y1="257.56" x2="600.00" y2="253.00" stroke="#2e2c92" stroke-width="1.05" />
<line x1="603.00" y1="256.22" x2="603.00" y2="249.00" stroke="#2e2c92" stroke-width="1.05" />
<line x1="610.00" y1="252.81" x2="610.00" y2="250.00" stroke="#2e2c92" stroke-width="1.05" />
<line x1="631.00" y1="241.78" x2="631.00" y2="237.80" stroke="#2e2c92" stroke-width="1.05" />
<line x1="200.30" y1="268.00" x2="200.30" y2="228.60" stroke="#1e1c8c" stroke-width="1.15" />
<line x1="214.90" y1="268.00" x2="214.90" y2="219.50" stroke="#1e1c8c" stroke-width="1.15" />
<line x1="230.30" y1="268.00" x2="230.30" y2="226.60" stroke="#1e1c8c" stroke-width="1.15" />
<line x1="245.70" y1="268.00" x2="245.70" y2="197.90" stroke="#1e1c8c" stroke-width="1.15" />
<line x1="261.00" y1="267.99" x2="261.00" y2="169.50" stroke="#1e1c8c" stroke-width="1.15" />
<line x1="276.40" y1="267.80" x2="276.40" y2="167.50" stroke="#1e1c8c" stroke-width="1.15" />
<line x1="292.20" y1="267.60" x2="292.20" y2="143.00" stroke="#1e1c8c" stroke-width="1.15" />
<line x1="308.40" y1="267.35" x2="308.40" y2="117.00" stroke="#1e1c8c" stroke-width="1.15" />
<line x1="324.50" y1="267.07" x2="324.50" y2="106.40" stroke="#1e1c8c" stroke-width="1.15" />
<line x1="340.70" y1="266.81" x2="340.70" y2="121.00" stroke="#1e1c8c" stroke-width="1.15" />
<line x1="357.60" y1="266.98" x2="357.60" y2="72.90" stroke="#1e1c8c" stroke-width="1.15" />
<line x1="374.60" y1="267.07" x2="374.60" y2="51.20" stroke="#1e1c8c" stroke-width="1.15" />
<line x1="408.90" y1="167.73" x2="408.90" y2="71.70" stroke="#1e1c8c" stroke-width="1.15" />
<line x1="427.00" y1="165.54" x2="427.00" y2="30.70" stroke="#1e1c8c" stroke-width="1.15" />
<line x1="444.20" y1="168.95" x2="444.20" y2="63.90" stroke="#1e1c8c" stroke-width="1.15" />
<line x1="462.30" y1="195.06" x2="462.30" y2="77.60" stroke="#1e1c8c" stroke-width="1.15" />
<line x1="465.10" y1="204.98" x2="465.10" y2="39.40" stroke="#1e1c8c" stroke-width="1.15" />
<line x1="480.40" y1="237.65" x2="480.40" y2="54.40" stroke="#1e1c8c" stroke-width="1.15" />
<line x1="499.00" y1="243.19" x2="499.00" y2="78.80" stroke="#1e1c8c" stroke-width="1.15" />
<line x1="518.30" y1="246.12" x2="518.30" y2="172.20" stroke="#1e1c8c" stroke-width="1.15" />
<line x1="537.20" y1="252.01" x2="537.20" y2="111.50" stroke="#1e1c8c" stroke-width="1.15" />
<line x1="556.90" y1="263.28" x2="556.90" y2="117.50" stroke="#1e1c8c" stroke-width="1.15" />
<line x1="576.20" y1="264.50" x2="576.20" y2="166.30" stroke="#1e1c8c" stroke-width="1.15" />
<line x1="596.30" y1="261.20" x2="596.30" y2="164.40" stroke="#1e1c8c" stroke-width="1.15" />
<line x1="616.80" y1="250.79" x2="616.80" y2="169.90" stroke="#1e1c8c" stroke-width="1.15" />
<line x1="636.90" y1="241.09" x2="636.90" y2="205.00" stroke="#1e1c8c" stroke-width="1.15" />
<line x1="391.90" y1="281.60" x2="391.90" y2="93.80" stroke="#1e1c8c" stroke-width="1.15" />
<line x1="422.80" y1="34.40" x2="431.20" y2="42.80" stroke="#2f8f2f" stroke-width="1.8" />
<line x1="422.80" y1="42.80" x2="431.20" y2="34.40" stroke="#2f8f2f" stroke-width="1.8" />
<rect x="177.8" y="10.5" width="503.49999999999994" height="271.1" fill="none" stroke="#000" stroke-width="2"/>
<line x1="171.40" y1="36.00" x2="177.80" y2="36.00" stroke="#000" stroke-width="2" />
<text x="161.15" y="41.90" font-size="16.9" fill="#141414" >0</text>
<line x1="171.40" y1="97.40" x2="177.80" y2="97.40" stroke="#000" stroke-width="2" />
<text x="143.15" y="103.30" font-size="16.9" fill="#141414" >−20</text>
<line x1="171.40" y1="158.80" x2="177.80" y2="158.80" stroke="#000" stroke-width="2" />
<text x="143.15" y="164.70" font-size="16.9" fill="#141414" >−40</text>
<line x1="171.40" y1="220.20" x2="177.80" y2="220.20" stroke="#000" stroke-width="2" />
<text x="143.15" y="226.10" font-size="16.9" fill="#141414" >−60</text>
<line x1="171.40" y1="281.60" x2="177.80" y2="281.60" stroke="#000" stroke-width="2" />
<text x="143.15" y="287.50" font-size="16.9" fill="#141414" >−80</text>
<line x1="178.20" y1="281.60" x2="178.20" y2="289.50" stroke="#000" stroke-width="2" />
<text x="165.00" y="306.00" font-size="16.9" fill="#141414" >1400</text>
<line x1="261.83" y1="281.60" x2="261.83" y2="289.50" stroke="#000" stroke-width="2" />
<text x="248.80" y="306.00" font-size="16.9" fill="#141414" >1450</text>
<line x1="345.47" y1="281.60" x2="345.47" y2="289.50" stroke="#000" stroke-width="2" />
<text x="332.30" y="306.00" font-size="16.9" fill="#141414" >1500</text>
<line x1="429.11" y1="281.60" x2="429.11" y2="289.50" stroke="#000" stroke-width="2" />
<text x="414.60" y="306.00" font-size="16.9" fill="#141414" >1550</text>
<line x1="512.74" y1="281.60" x2="512.74" y2="289.50" stroke="#000" stroke-width="2" />
<text x="499.10" y="306.00" font-size="16.9" fill="#141414" >1600</text>
<line x1="596.38" y1="281.60" x2="596.38" y2="289.50" stroke="#000" stroke-width="2" />
<text x="584.80" y="306.00" font-size="16.9" fill="#141414" >1650</text>
<line x1="680.01" y1="281.60" x2="680.01" y2="289.50" stroke="#000" stroke-width="2" />
<text x="649.00" y="306.00" font-size="16.9" fill="#141414" >1700</text>
<text transform="translate(139.60,220.53) rotate(-90)" font-size="17.3" fill="#141414">Intensity (dBm)</text>
<text x="371.60" y="325.00" font-size="17.3" fill="#141414" >Wavelength (nm)</text>
<rect x="533.40" y="27.90" width="136.60" height="67.50" fill="#fff" stroke="#000" stroke-width="1.6"/>
<line x1="563.30" y1="28.90" x2="563.30" y2="62.50" stroke="#c0392b" stroke-width="0.9" stroke-dasharray="1.2,1.2"/>
<line x1="601.70" y1="28.90" x2="601.70" y2="56.80" stroke="#c0392b" stroke-width="0.9" stroke-dasharray="1.2,1.2"/>
<line x1="640.30" y1="28.90" x2="640.30" y2="67.30" stroke="#c0392b" stroke-width="0.9" stroke-dasharray="1.2,1.2"/>
<polyline points="539.0,88.5 539.6,87.7 540.2,88.3 540.8,87.3 541.4,88.5 542.0,87.8 542.6,87.4 543.2,88.3 543.8,88.0 544.4,88.4 545.0,88.3 545.6,88.2 546.2,87.8 546.8,88.5 547.4,87.2 548.0,88.3 548.6,88.1 549.2,87.5 549.8,88.2 550.4,87.7 551.0,87.9 551.6,88.3 552.2,87.4 552.8,87.5 553.4,88.0 554.0,87.2 554.6,87.9 555.2,88.2 555.8,87.8 556.4,87.4 557.0,88.2 557.6,88.3 558.2,88.2 558.8,87.9 559.4,88.4 560.0,88.2 560.6,87.3 561.2,86.0 561.8,76.2 562.4,68.6 563.0,63.5 563.6,63.5 564.2,68.6 564.8,76.2 565.4,86.0 566.0,87.6 566.6,88.3 567.2,88.0 567.8,88.4 568.4,87.2 569.0,88.5 569.6,87.4 570.2,88.0 570.8,88.3 571.4,88.1 572.0,87.4 572.6,88.0 573.2,87.7 573.8,87.1 574.4,87.6 575.0,87.5 575.6,88.0 576.2,87.5 576.8,87.9 577.4,88.1 578.0,87.4 578.6,87.3 579.2,88.1 579.8,87.8 580.4,87.3 581.0,87.3 581.6,88.4 582.2,88.0 582.8,87.6 583.4,87.4 584.0,88.5 584.6,88.1 585.2,88.1 585.8,87.6 586.4,87.5 587.0,87.7 587.6,87.3 588.2,88.0 588.8,87.7 589.4,88.2 590.0,87.7 590.6,87.7 591.2,87.8 591.8,88.4 592.4,87.6 593.0,88.1 593.6,87.4 594.2,87.9 594.8,87.5 595.4,88.3 596.0,87.5 596.6,88.3 597.2,88.0 597.8,87.7 598.4,88.4 599.0,87.6 599.6,85.6 600.2,73.6 600.8,64.2 601.4,58.1 602.0,58.1 602.6,64.2 603.2,73.6 603.8,85.6 604.4,87.5 605.0,88.1 605.6,88.0 606.2,87.4 606.8,87.7 607.4,87.3 608.0,88.4 608.6,87.5 609.2,87.7 609.8,87.6 610.4,88.2 611.0,88.3 611.6,87.9 612.2,87.9 612.8,87.2 613.4,88.4 614.0,87.2 614.6,87.6 615.2,87.6 615.8,88.1 616.4,88.0 617.0,87.6 617.6,88.4 618.2,88.4 618.8,87.1 619.4,88.0 620.0,87.8 620.6,87.6 621.2,87.8 621.8,87.5 622.4,88.0 623.0,87.9 623.6,88.5 624.2,88.5 624.8,88.5 625.4,87.7 626.0,88.3 626.6,88.0 627.2,88.1 627.8,88.5 628.4,87.2 629.0,87.7 629.6,87.7 630.2,88.0 630.8,87.4 631.4,88.5 632.0,87.4 632.6,87.6 633.2,87.3 633.8,87.7 634.4,88.1 635.0,87.2 635.6,87.3 636.2,88.0 636.8,88.0 637.4,88.1 638.0,87.5 638.6,80.9 639.2,74.1 639.8,69.2 640.4,67.4 641.0,70.6 641.6,76.1 642.2,83.5 642.8,88.4 643.4,88.4 644.0,87.1 644.6,87.6 645.2,87.9 645.8,87.8 646.4,87.3 647.0,88.2 647.6,87.5 648.2,87.8 648.8,87.3 649.4,87.9 650.0,87.3 650.6,87.2 651.2,87.8 651.8,87.5 652.4,88.2 653.0,87.4 653.6,87.7 654.2,87.2 654.8,87.4 655.4,87.7 656.0,87.9 656.6,87.7 657.2,88.3 657.8,87.2 658.4,88.3 659.0,87.3 659.6,88.5 660.2,87.8 660.8,87.7 661.4,88.0 662.0,88.3 662.6,88.4" stroke="#1f2a9a" stroke-width="1.4" fill="none" stroke-linejoin="round" />
<line x1="559.40" y1="58.60" x2="567.20" y2="66.40" stroke="#b8242a" stroke-width="2.0" />
<line x1="559.40" y1="66.40" x2="567.20" y2="58.60" stroke="#b8242a" stroke-width="2.0" />
<line x1="597.80" y1="52.90" x2="605.60" y2="60.70" stroke="#b8242a" stroke-width="2.0" />
<line x1="597.80" y1="60.70" x2="605.60" y2="52.90" stroke="#b8242a" stroke-width="2.0" />
<line x1="636.40" y1="63.40" x2="644.20" y2="71.20" stroke="#b8242a" stroke-width="2.0" />
<line x1="636.40" y1="71.20" x2="644.20" y2="63.40" stroke="#b8242a" stroke-width="2.0" />
<line x1="569.00" y1="42.30" x2="596.00" y2="42.30" stroke="#000" stroke-width="1.3" />
<polygon points="564.0,42.3 569.5,39.1 569.5,45.5" fill="#000" />
<polygon points="601.0,42.3 595.5,39.1 595.5,45.5" fill="#000" />
<line x1="607.40" y1="42.30" x2="634.60" y2="42.30" stroke="#000" stroke-width="1.3" />
<polygon points="602.4,42.3 607.9,39.1 607.9,45.5" fill="#000" />
<polygon points="639.6,42.3 634.1,39.1 634.1,45.5" fill="#000" />
<text x="509.35" y="33.90" font-size="12.3" fill="#141414" >−40</text>
<text x="509.35" y="69.40" font-size="12.3" fill="#141414" >−55</text>
<text x="509.35" y="100.90" font-size="12.3" fill="#141414" >−70</text>
<text x="529.25" y="26.00" font-size="12.3" fill="#141414" >189.2</text>
<text x="580.95" y="26.00" font-size="12.3" fill="#141414" >188.9</text>
<text x="637.95" y="26.00" font-size="12.3" fill="#141414" >188.6</text>
<text x="532.10" y="107.50" font-size="12.3" fill="#141414" >1585</text>
<text x="588.00" y="107.50" font-size="12.3" fill="#141414" >1588</text>
<text x="646.20" y="107.50" font-size="12.3" fill="#141414" >1591</text>
<text x="645.57" y="45.20" font-size="12.3" fill="#141414" >221</text>
<text x="642.77" y="61.50" font-size="12.3" fill="#141414" >GHz</text>
<rect x="204.00" y="413.10" width="314.30" height="247.10" fill="#e7eecf" />
<rect x="518.30" y="413.10" width="162.70" height="247.10" fill="#f0f6c9" />
<line x1="243.40" y1="414.10" x2="243.40" y2="618.90" stroke="#e05a4a" stroke-width="2" stroke-dasharray="10,4"/>
<line x1="543.80" y1="414.10" x2="543.80" y2="491.40" stroke="#c03a2c" stroke-width="1.8" stroke-dasharray="9,3.5"/>
<polygon points="205.0,656.5 205.5,655.0 206.0,655.1 206.5,655.4 207.0,656.1 207.5,654.5 208.0,654.7 208.5,655.4 209.0,655.6 209.5,654.4 210.0,655.1 210.5,654.4 211.0,653.1 211.5,654.2 212.0,655.3 212.5,655.3 213.0,654.9 213.5,655.0 214.0,654.8 214.5,654.0 215.0,654.5 215.5,654.8 216.0,655.3 216.5,654.9 217.0,655.0 217.5,654.5 218.0,654.7 218.5,653.6 219.0,653.6 219.5,654.3 220.0,654.8 220.5,654.3 221.0,654.4 221.5,653.9 222.0,655.1 222.5,654.8 223.0,654.5 223.5,652.7 224.0,654.0 224.5,653.4 225.0,652.8 225.5,653.7 226.0,654.0 226.5,653.7 227.0,654.0 227.5,653.4 228.0,655.0 228.5,652.0 229.0,655.0 229.5,654.3 230.0,653.2 230.5,653.1 231.0,654.2 231.5,654.4 232.0,654.3 232.5,654.5 233.0,654.9 233.5,653.6 234.0,654.1 234.5,654.9 235.0,653.4 235.5,653.5 236.0,654.4 236.5,653.7 237.0,653.6 237.5,655.1 238.0,654.5 238.5,653.5 239.0,654.0 239.5,653.8 240.0,653.9 240.5,654.2 241.0,654.7 241.5,654.7 242.0,654.4 242.5,654.3 243.0,652.9 243.5,654.5 244.0,653.0 244.5,654.9 245.0,654.1 245.5,654.9 246.0,653.9 246.5,654.1 247.0,654.3 247.5,653.7 248.0,652.9 248.5,655.0 249.0,655.3 249.5,654.0 250.0,654.2 250.5,654.7 251.0,655.6 251.5,653.0 252.0,654.4 252.5,656.1 253.0,655.8 253.5,656.7 254.0,656.1 254.5,654.0 255.0,656.9 255.5,654.8 256.0,656.5 256.5,657.6 257.0,658.1 257.5,657.8 258.0,657.9 258.5,657.5 259.0,658.0 259.5,657.6 260.0,656.6 260.5,655.5 261.0,657.8 261.5,657.9 262.0,657.3 262.5,658.6 263.0,657.4 263.5,657.8 264.0,658.5 264.5,658.0 265.0,656.8 265.5,658.9 266.0,657.9 266.5,657.9 267.0,659.5 267.5,657.6 268.0,659.4 268.5,657.3 269.0,657.7 269.5,659.5 270.0,658.6 270.5,656.7 271.0,656.5 271.5,659.5 272.0,659.3 272.5,659.0 273.0,659.3 273.5,658.9 274.0,659.6 274.5,658.7 275.0,657.0 275.5,659.2 276.0,658.5 276.5,656.3 277.0,656.4 277.5,656.3 278.0,658.9 278.5,658.5 279.0,658.6 279.5,657.8 280.0,658.0 280.5,659.6 281.0,656.3 281.5,659.6 282.0,656.8 282.5,658.7 283.0,658.3 283.5,659.6 284.0,658.1 284.5,657.3 285.0,659.2 285.5,658.4 286.0,658.8 286.5,659.2 287.0,659.0 287.5,658.3 288.0,659.6 288.5,659.0 289.0,659.3 289.5,658.7 290.0,658.9 290.5,658.3 291.0,659.5 291.5,659.3 292.0,658.7 292.5,658.9 293.0,658.5 293.5,659.5 294.0,658.1 294.5,659.3 295.0,656.5 295.5,659.6 296.0,658.5 296.5,658.5 297.0,659.4 297.5,658.6 298.0,658.5 298.5,659.1 299.0,659.6 299.5,658.0 300.0,658.4 300.5,656.6 301.0,658.3 301.5,658.7 302.0,657.9 302.5,658.8 303.0,657.0 303.5,657.4 304.0,659.6 304.5,658.3 305.0,659.6 305.5,659.6 306.0,659.6 306.5,659.1 307.0,659.0 307.5,659.1 308.0,658.1 308.5,659.6 309.0,658.6 309.5,657.3 310.0,659.4 310.5,659.5 311.0,658.2 311.5,658.9 312.0,657.4 312.5,658.3 313.0,658.2 313.5,659.3 314.0,659.6 314.5,658.7 315.0,659.6 315.5,658.6 316.0,658.8 316.5,659.6 317.0,659.5 317.5,659.5 318.0,659.3 318.5,658.9 319.0,659.4 319.5,657.2 320.0,659.0 320.5,659.4 321.0,657.8 321.5,656.7 322.0,657.9 322.5,658.1 323.0,659.5 323.5,659.3 324.0,659.4 324.5,657.3 325.0,658.3 325.5,658.4 326.0,657.7 326.5,658.6 327.0,658.3 327.5,658.0 328.0,658.1 328.5,658.0 329.0,657.7 329.5,656.4 330.0,658.5 330.5,658.1 331.0,655.3 331.5,656.8 332.0,657.5 332.5,656.4 333.0,657.1 333.5,656.3 334.0,657.1 334.5,657.1 335.0,654.2 335.5,653.8 336.0,655.6 336.5,655.4 337.0,654.6 337.5,654.3 338.0,654.8 338.5,655.3 339.0,654.7 339.5,654.3 340.0,652.7 340.5,654.2 341.0,653.3 341.5,652.5 342.0,653.3 342.5,652.5 343.0,653.8 343.5,653.7 344.0,650.4 344.5,651.7 345.0,651.3 345.5,651.8 346.0,651.8 346.5,651.9 347.0,651.5 347.0,660.2 205.0,660.2" fill="#2b3077" />
<polyline points="340.0,655.9 340.6,655.7 341.2,655.3 341.8,654.7 342.4,654.1 343.0,653.7 343.6,653.2 344.2,653.6 344.8,653.4 345.4,653.5 346.0,652.2 346.6,652.8 347.2,652.5 347.8,651.1 348.4,651.9 349.0,651.0 349.6,651.3 350.2,650.6 350.8,649.6 351.4,649.2 352.0,649.3 352.6,647.8 353.2,645.5 353.8,645.2 354.4,643.1 355.0,641.4 355.6,640.3 356.2,637.9 356.8,636.2 357.4,633.0 358.0,628.3 358.6,624.2 359.2,619.5 359.8,615.3 360.4,611.1 361.0,606.3 361.6,601.8 362.2,598.6 362.8,596.8 363.4,595.3 364.0,593.5 364.6,592.4 365.2,590.1 365.8,582.6 366.4,576.9 367.0,571.1 367.6,565.8 368.2,563.8 368.8,562.3 369.4,561.1 370.0,560.2 370.6,560.1 371.2,561.4 371.8,563.0 372.4,563.7 373.0,565.0 373.6,567.7 374.2,568.4 374.8,570.3 375.4,572.4 376.0,572.5 376.6,573.9 377.2,574.5 377.8,574.4 378.4,575.0 379.0,574.6 379.6,574.6 380.2,574.0 380.8,573.8 381.4,573.1 382.0,572.9 382.6,572.1 383.2,570.5 383.8,567.6 384.4,566.5 385.0,566.4 385.6,566.6 386.2,565.8 386.8,564.8 387.4,564.9 388.0,565.8 388.6,566.8 389.2,567.0 389.8,568.1 390.4,568.8 391.0,570.4 391.6,572.0 392.2,575.6 392.8,577.2 393.4,579.6 394.0,582.8 394.6,584.8 395.2,588.0 395.8,591.8 396.4,595.1 397.0,597.7 397.6,602.3 398.2,605.3 398.8,607.8 399.4,610.2 400.0,612.1 400.6,615.5 401.2,616.4 401.8,619.0 402.4,621.1 403.0,624.2 403.6,624.6 404.2,625.3 404.8,626.2 405.4,627.8 406.0,627.7 406.6,629.4 407.2,630.2 407.8,630.7 408.4,631.3 409.0,631.7 409.6,631.9 410.2,632.0 410.8,632.7 411.4,632.6 412.0,632.6 412.6,633.6 413.2,633.4 413.8,633.6 414.4,634.5 415.0,634.1 415.6,634.2 416.2,635.3 416.8,635.5 417.4,635.2 418.0,634.7 418.6,635.1 419.2,635.3 419.8,634.6 420.4,635.4 421.0,635.8 421.6,635.4 422.2,635.4 422.8,635.1 423.4,635.5 424.0,634.9 424.6,635.8 425.2,635.5 425.8,636.2 426.4,635.2 427.0,635.9 427.6,634.8 428.2,635.5 428.8,636.1 429.4,635.4 430.0,636.3 430.6,636.1 431.2,636.7 431.8,638.0 432.4,637.0 433.0,638.5 433.6,637.5 434.2,638.7 434.8,639.4 435.4,639.8 436.0,639.4 436.6,640.1 437.2,640.6 437.8,641.0 438.4,641.4 439.0,641.5 439.6,641.3 440.2,642.5 440.8,642.6 441.4,643.0 442.0,644.1 442.6,643.1 443.2,644.6 443.8,644.2 444.4,645.3 445.0,646.0 445.6,645.3 446.2,646.2 446.8,646.5 447.4,646.9 448.0,646.7 448.6,647.9 449.2,648.6 449.8,648.5 450.4,648.2 451.0,649.3 451.6,649.0" stroke="#2b3077" stroke-width="1.4" fill="none" stroke-linejoin="round" />
<polygon points="450.0,647.4 450.7,647.9 451.4,649.9 452.1,649.9 452.8,649.9 453.5,649.1 454.2,649.2 454.9,650.4 455.6,650.3 456.3,650.9 457.0,651.6 457.7,650.9 458.4,652.9 459.1,652.6 459.8,651.8 460.5,652.8 461.2,652.4 461.9,652.5 462.6,654.2 463.3,653.0 464.0,652.7 464.7,653.3 465.4,653.3 466.1,654.9 466.8,652.5 467.5,653.7 468.2,653.6 468.9,654.1 469.6,652.7 470.3,654.5 471.0,652.7 471.7,651.6 472.4,651.1 473.1,652.6 473.8,651.6 474.5,651.7 475.2,651.4 475.9,652.1 476.6,650.9 477.3,650.3 478.0,651.4 478.7,650.2 479.4,649.8 480.1,649.2 480.8,648.1 481.5,648.3 482.2,648.0 482.9,647.5 483.6,647.3 484.3,647.0 485.0,646.5 485.7,646.2 486.4,645.0 487.1,645.1 487.8,643.3 488.5,644.3 489.2,641.1 489.9,640.4 490.6,639.9 491.3,639.8 492.0,639.3 492.7,640.6 493.4,639.7 494.1,638.9 494.8,639.5 495.5,638.5 496.2,640.7 496.9,635.4 497.6,628.7 498.3,625.5 499.0,630.3 499.7,625.9 500.4,621.5 501.1,622.9 501.8,621.6 502.5,620.9 503.2,620.8 503.9,623.6 504.6,621.7 505.3,621.8 506.0,625.1 506.7,625.5 507.4,622.6 508.1,619.9 508.8,622.2 509.5,620.9 510.2,620.6 510.9,622.4 511.6,620.0 512.3,621.8 513.0,623.0 513.7,623.3 514.4,618.7 515.1,617.6 515.8,617.4 516.5,619.5 517.2,619.7 517.9,618.6 518.6,616.7 519.3,619.0 520.0,614.5 520.7,614.8 521.4,613.3 522.1,614.2 522.8,612.8 523.5,612.7 524.2,613.1 524.9,615.2 525.6,610.7 526.3,613.2 527.0,612.2 527.7,609.6 528.4,611.2 529.1,617.8 529.8,622.9 530.5,626.8 531.2,625.7 531.9,626.8 532.6,623.6 533.3,625.8 534.0,624.9 534.7,627.6 535.4,625.3 536.1,629.0 536.8,626.3 537.5,626.7 538.2,627.1 538.9,625.4 539.6,629.2 540.3,624.3 541.0,626.8 541.7,627.5 542.4,626.9 543.1,623.9 543.8,626.7 544.5,624.0 545.2,623.8 545.9,626.6 546.6,626.3 547.3,626.3 548.0,626.4 548.7,625.1 549.4,626.5 550.1,625.2 550.8,625.3 551.5,624.8 552.2,625.8 552.9,623.9 553.6,625.6 554.3,623.7 555.0,625.7 555.7,625.7 556.4,623.8 557.1,626.0 557.8,624.4 558.5,629.4 559.2,627.6 559.9,624.0 560.6,627.4 561.3,629.6 562.0,628.3 562.7,623.6 563.4,629.0 564.1,630.5 564.8,629.3 565.5,627.5 566.2,625.0 566.9,624.3 567.6,624.8 568.3,625.9 569.0,626.3 569.7,624.0 570.4,627.9 571.1,624.6 571.8,624.0 572.5,625.1 573.2,627.0 573.9,627.0 574.6,626.0 575.3,629.2 576.0,624.5 576.7,625.3 577.4,624.0 578.1,628.5 578.8,625.6 579.5,624.4 580.2,624.6 580.9,624.3 581.6,627.7 582.3,626.4 583.0,625.6 583.7,624.4 584.4,624.6 585.1,627.2 585.8,626.9 586.5,624.1 587.2,625.1 587.9,628.3 588.6,624.8 589.3,626.2 590.0,626.4 590.7,625.1 591.4,624.9 592.1,628.2 592.8,624.7 593.5,623.9 594.2,625.0 594.9,629.4 595.6,628.0 596.3,629.2 597.0,627.0 597.7,626.1 598.4,625.2 599.1,626.8 599.8,624.9 600.5,623.5 601.2,628.0 601.9,625.2 602.6,628.4 603.3,628.7 604.0,625.3 604.7,623.5 605.4,625.6 606.1,624.6 606.8,626.5 607.5,624.9 608.2,628.6 608.9,625.7 609.6,627.7 610.3,623.9 611.0,626.5 611.7,623.9 612.4,626.8 613.1,626.3 613.8,624.9 614.5,623.7 615.2,626.5 615.9,627.4 616.6,624.7 617.3,623.8 618.0,627.7 618.7,624.9 619.4,625.9 620.1,627.7 620.8,626.7 621.5,630.3 622.2,625.9 622.9,623.8 623.6,627.1 624.3,626.5 625.0,623.7 625.7,627.9 626.4,625.9 627.1,624.4 627.8,628.2 628.5,624.6 629.2,625.4 629.9,626.7 630.6,624.1 631.3,624.7 632.0,625.7 632.7,623.6 633.4,626.5 634.1,624.9 634.8,624.3 635.5,623.9 636.2,628.4 636.9,625.7 637.6,625.7 638.3,625.8 639.0,624.0 639.7,629.4 640.4,628.4 641.1,626.1 641.8,626.6 642.5,630.2 643.2,625.7 643.9,626.5 644.6,623.9 645.3,626.1 646.0,627.8 646.7,628.2 647.4,626.3 648.1,625.5 648.8,624.4 649.5,624.8 650.2,628.1 650.9,626.6 651.6,624.2 652.3,626.9 653.0,624.9 653.7,626.9 654.4,625.8 655.1,628.3 655.8,630.0 656.5,626.6 657.2,627.3 657.9,626.7 658.6,625.6 659.3,623.5 660.0,623.9 660.7,629.7 661.4,625.3 662.1,629.3 662.8,625.1 663.5,625.2 664.2,624.6 664.9,624.2 665.6,627.3 666.3,626.8 667.0,623.6 667.7,625.5 668.4,625.0 669.1,624.3 669.8,624.0 670.5,627.0 671.2,626.7 671.9,627.2 672.6,624.3 673.3,624.7 674.0,625.2 674.7,625.4 675.4,624.6 676.1,626.5 676.8,625.1 677.5,627.0 678.2,629.9 678.9,626.4 679.6,630.4 680.2,660.2 450.0,660.2" fill="#2b3077" />
<line x1="462.48" y1="659.20" x2="462.48" y2="651.91" stroke="#8a8fb0" stroke-width="0.8" />
<line x1="489.36" y1="659.20" x2="489.36" y2="650.64" stroke="#8a8fb0" stroke-width="0.8" />
<line x1="463.76" y1="659.20" x2="463.76" y2="656.36" stroke="#8a8fb0" stroke-width="0.8" />
<line x1="461.91" y1="659.20" x2="461.91" y2="655.58" stroke="#8a8fb0" stroke-width="0.8" />
<line x1="492.80" y1="659.20" x2="492.80" y2="650.83" stroke="#8a8fb0" stroke-width="0.8" />
<line x1="474.90" y1="659.20" x2="474.90" y2="656.31" stroke="#8a8fb0" stroke-width="0.8" />
<line x1="469.81" y1="659.20" x2="469.81" y2="655.51" stroke="#8a8fb0" stroke-width="0.8" />
<line x1="482.23" y1="659.20" x2="482.23" y2="652.16" stroke="#8a8fb0" stroke-width="0.8" />
<line x1="487.60" y1="659.20" x2="487.60" y2="654.14" stroke="#8a8fb0" stroke-width="0.8" />
<line x1="474.19" y1="659.20" x2="474.19" y2="653.92" stroke="#8a8fb0" stroke-width="0.8" />
<line x1="470.55" y1="659.20" x2="470.55" y2="654.01" stroke="#8a8fb0" stroke-width="0.8" />
<line x1="483.78" y1="659.20" x2="483.78" y2="652.22" stroke="#8a8fb0" stroke-width="0.8" />
<line x1="468.71" y1="659.20" x2="468.71" y2="653.23" stroke="#8a8fb0" stroke-width="0.8" />
<line x1="461.09" y1="659.20" x2="461.09" y2="656.88" stroke="#8a8fb0" stroke-width="0.8" />
<line x1="471.25" y1="659.20" x2="471.25" y2="654.69" stroke="#8a8fb0" stroke-width="0.8" />
<line x1="456.37" y1="659.20" x2="456.37" y2="656.64" stroke="#8a8fb0" stroke-width="0.8" />
<line x1="576.64" y1="659.20" x2="576.64" y2="641.18" stroke="#6a6fa0" stroke-width="0.8" />
<line x1="650.75" y1="659.20" x2="650.75" y2="656.69" stroke="#6a6fa0" stroke-width="0.8" />
<line x1="557.01" y1="659.20" x2="557.01" y2="650.93" stroke="#6a6fa0" stroke-width="0.8" />
<line x1="556.00" y1="659.20" x2="556.00" y2="654.87" stroke="#6a6fa0" stroke-width="0.8" />
<line x1="606.27" y1="659.20" x2="606.27" y2="642.94" stroke="#6a6fa0" stroke-width="0.8" />
<line x1="568.71" y1="659.20" x2="568.71" y2="654.20" stroke="#6a6fa0" stroke-width="0.8" />
<line x1="518.95" y1="659.20" x2="518.95" y2="656.94" stroke="#6a6fa0" stroke-width="0.8" />
<line x1="637.76" y1="659.20" x2="637.76" y2="653.28" stroke="#6a6fa0" stroke-width="0.8" />
<line x1="630.32" y1="659.20" x2="630.32" y2="643.76" stroke="#6a6fa0" stroke-width="0.8" />
<line x1="515.02" y1="659.20" x2="515.02" y2="653.99" stroke="#6a6fa0" stroke-width="0.8" />
<line x1="556.77" y1="659.20" x2="556.77" y2="644.13" stroke="#6a6fa0" stroke-width="0.8" />
<line x1="632.63" y1="659.20" x2="632.63" y2="652.05" stroke="#6a6fa0" stroke-width="0.8" />
<line x1="581.34" y1="659.20" x2="581.34" y2="651.16" stroke="#6a6fa0" stroke-width="0.8" />
<line x1="584.91" y1="659.20" x2="584.91" y2="643.71" stroke="#6a6fa0" stroke-width="0.8" />
<line x1="547.11" y1="659.20" x2="547.11" y2="643.42" stroke="#6a6fa0" stroke-width="0.8" />
<line x1="665.60" y1="659.20" x2="665.60" y2="646.98" stroke="#6a6fa0" stroke-width="0.8" />
<line x1="528.40" y1="414.10" x2="528.40" y2="660.20" stroke="#d86a3a" stroke-width="1.1" stroke-dasharray="1.6,1.6"/>
<line x1="543.80" y1="491.40" x2="543.80" y2="660.20" stroke="#6b6e80" stroke-width="1.6" />
<line x1="543.80" y1="626.00" x2="543.80" y2="660.20" stroke="#b8b8b8" stroke-width="1.2" />
<line x1="379.10" y1="414.10" x2="379.10" y2="574.00" stroke="#4a5078" stroke-width="1.4" />
<line x1="243.40" y1="618.90" x2="243.40" y2="660.20" stroke="#6b6e80" stroke-width="1.2" />
<line x1="374.40" y1="419.70" x2="384.20" y2="429.50" stroke="#2f8f2f" stroke-width="1.9" />
<line x1="374.40" y1="429.50" x2="384.20" y2="419.70" stroke="#2f8f2f" stroke-width="1.9" />
<line x1="238.50" y1="614.00" x2="248.30" y2="623.80" stroke="#5ea7ea" stroke-width="1.9" />
<line x1="238.50" y1="623.80" x2="248.30" y2="614.00" stroke="#5ea7ea" stroke-width="1.9" />
<line x1="539.30" y1="486.60" x2="549.30" y2="496.60" stroke="#e0632a" stroke-width="1.9" />
<line x1="539.30" y1="496.60" x2="549.30" y2="486.60" stroke="#e0632a" stroke-width="1.9" />
<line x1="249.40" y1="503.30" x2="373.10" y2="503.30" stroke="#4a7bd0" stroke-width="1.3" />
<polygon points="243.4,503.3 249.9,499.9 249.9,506.7" fill="#4a7bd0" />
<polygon points="379.1,503.3 372.6,499.9 372.6,506.7" fill="#4a7bd0" />
<line x1="385.10" y1="503.30" x2="537.80" y2="503.30" stroke="#4a7bd0" stroke-width="1.3" />
<polygon points="379.1,503.3 385.6,499.9 385.6,506.7" fill="#4a7bd0" />
<polygon points="543.8,503.3 537.3,499.9 537.3,506.7" fill="#4a7bd0" />
<text x="286.70" y="499.30" font-size="17.3" fill="#141414" >18.23 THz</text>
<text x="418.80" y="499.30" font-size="17.3" fill="#141414" >18.27 THz</text>
<text x="253.10" y="558.40" font-size="17.3" fill="#141414" >Anti Stokes</text>
<text x="253.10" y="579.50" font-size="17.3" fill="#141414" >peak</text>
<text x="567.40" y="557.80" font-size="17.3" fill="#141414" >Stokes peak</text>
<text x="468.40" y="435.90" font-size="17.3" fill="#141414" >OSA 1</text>
<text x="622.60" y="435.90" font-size="17.3" fill="#141414" >OSA 2</text>
<rect x="204.0" y="413.1" width="477.0" height="247.10000000000002" fill="none" stroke="#000" stroke-width="2"/>
<line x1="197.40" y1="428.50" x2="204.00" y2="428.50" stroke="#000" stroke-width="2" />
<text x="187.25" y="435.10" font-size="16.9" fill="#141414" >0</text>
<line x1="197.40" y1="486.45" x2="204.00" y2="486.45" stroke="#000" stroke-width="2" />
<text x="165.75" y="493.05" font-size="16.9" fill="#141414" >−20</text>
<line x1="197.40" y1="544.40" x2="204.00" y2="544.40" stroke="#000" stroke-width="2" />
<text x="165.75" y="551.00" font-size="16.9" fill="#141414" >−40</text>
<line x1="197.40" y1="602.35" x2="204.00" y2="602.35" stroke="#000" stroke-width="2" />
<text x="165.75" y="608.95" font-size="16.9" fill="#141414" >−60</text>
<line x1="197.40" y1="660.30" x2="204.00" y2="660.30" stroke="#000" stroke-width="2" />
<text x="165.75" y="666.90" font-size="16.9" fill="#141414" >−80</text>
<line x1="224.80" y1="660.20" x2="224.80" y2="667.50" stroke="#000" stroke-width="2" />
<text x="211.10" y="683.40" font-size="16.9" fill="#141414" >1400</text>
<line x1="325.85" y1="660.20" x2="325.85" y2="667.50" stroke="#000" stroke-width="2" />
<text x="312.70" y="683.40" font-size="16.9" fill="#141414" >1500</text>
<line x1="426.90" y1="660.20" x2="426.90" y2="667.50" stroke="#000" stroke-width="2" />
<text x="415.00" y="683.40" font-size="16.9" fill="#141414" >1600</text>
<line x1="527.95" y1="660.20" x2="527.95" y2="667.50" stroke="#000" stroke-width="2" />
<text x="512.70" y="683.40" font-size="16.9" fill="#141414" >1700</text>
<line x1="629.00" y1="660.20" x2="629.00" y2="667.50" stroke="#000" stroke-width="2" />
<text x="614.70" y="683.40" font-size="16.9" fill="#141414" >1800</text>
<line x1="252.70" y1="413.10" x2="252.70" y2="406.20" stroke="#000" stroke-width="2" />
<text x="239.32" y="401.30" font-size="16.9" fill="#141414" >210</text>
<line x1="324.80" y1="413.10" x2="324.80" y2="406.20" stroke="#000" stroke-width="2" />
<text x="310.82" y="401.30" font-size="16.9" fill="#141414" >200</text>
<line x1="406.00" y1="413.10" x2="406.00" y2="406.20" stroke="#000" stroke-width="2" />
<text x="392.82" y="401.30" font-size="16.9" fill="#141414" >190</text>
<line x1="494.50" y1="413.10" x2="494.50" y2="406.20" stroke="#000" stroke-width="2" />
<text x="480.72" y="401.30" font-size="16.9" fill="#141414" >180</text>
<line x1="595.00" y1="413.10" x2="595.00" y2="406.20" stroke="#000" stroke-width="2" />
<text x="582.33" y="401.30" font-size="16.9" fill="#141414" >170</text>
<text transform="translate(158.30,597.82) rotate(-90)" font-size="17.3" fill="#141414">Intensity (dBm)</text>
<text x="387.60" y="704.00" font-size="17.3" fill="#141414" >Wavelength (nm)</text>
<text x="373.60" y="375.60" font-size="17.3" fill="#141414" >Frequency (THz)</text>
<defs>
<radialGradient id="fg" cx="381.3" cy="903" r="140" gradientUnits="userSpaceOnUse" gradientTransform="translate(381.3 903) scale(0.9730 1) translate(-381.3 -903)">
<stop offset="0" stop-color="#0a240a"/>
<stop offset="0.476" stop-color="#0a250a"/>
<stop offset="0.722" stop-color="#0d2e0d"/>
<stop offset="0.753" stop-color="#1e6c1e"/>
<stop offset="0.773" stop-color="#32a332"/>
<stop offset="0.801" stop-color="#2a8a2a"/>
<stop offset="0.848" stop-color="#185618"/>
<stop offset="1" stop-color="#154d15"/>
</radialGradient>
<filter id="tex" x="0" y="0" width="100%" height="100%" color-interpolation-filters="sRGB">
<feTurbulence type="fractalNoise" baseFrequency="0.26" numOctaves="2" seed="9" result="n"/>
<feColorMatrix in="n" type="matrix" values="0 1 0 0 0  0 1 0 0 0  0 1 0 0 0  0 0 0 0 1" result="g"/>
<feComponentTransfer in="g" result="g2"><feFuncR type="linear" slope="1.8" intercept="-0.4"/><feFuncG type="linear" slope="1.8" intercept="-0.4"/><feFuncB type="linear" slope="1.8" intercept="-0.4"/></feComponentTransfer>
<feGaussianBlur in="g2" stdDeviation="0.5" result="g3"/>
<feComposite in="SourceGraphic" in2="g3" operator="arithmetic" k1="1.2" k2="0.42" k3="0" k4="0"/>
</filter>
<filter id="glow" x="-1" y="-1" width="3" height="3"><feGaussianBlur stdDeviation="1.6"/></filter>
</defs>
<g filter="url(#tex)"><rect x="262" y="778.5" width="241.5" height="246.0" fill="url(#fg)"/></g>
<circle cx="311" cy="825.4" r="5" fill="#5ee85e" filter="url(#glow)"/><circle cx="311" cy="825.4" r="2.5" fill="#8cff8c"/><circle cx="487" cy="861" r="3.5" fill="#50d050" filter="url(#glow)"/><circle cx="501" cy="1020" r="3" fill="#50d050" filter="url(#glow)"/><circle cx="271" cy="843" r="3" fill="#48c048" filter="url(#glow)"/>
<circle cx="453.5" cy="979.5" r="0.8" fill="#c02020"/>
<circle cx="327.4" cy="988.5" r="0.8" fill="#c02020"/>
<circle cx="332.1" cy="956.8" r="0.8" fill="#c02020"/>
<circle cx="319.4" cy="871.5" r="0.8" fill="#c02020"/>
<circle cx="370.7" cy="962.7" r="0.8" fill="#c02020"/>
<circle cx="408.9" cy="854.7" r="0.8" fill="#c02020"/>
<circle cx="443.7" cy="967.1" r="0.8" fill="#c02020"/>
<circle cx="381.6" cy="828.6" r="0.8" fill="#c02020"/>
<circle cx="345.7" cy="869.7" r="0.8" fill="#c02020"/>
<circle cx="367.0" cy="980.2" r="0.8" fill="#c02020"/>
<circle cx="395.2" cy="959.3" r="0.8" fill="#c02020"/>
<circle cx="311.4" cy="861.7" r="0.8" fill="#c02020"/>
<text x="4.10" y="1027.70" font-size="16.3" fill="#141414" >(g)</text>
<rect x="58.10" y="1051.10" width="298.80" height="233.00" fill="#dfbde9" />
<rect x="356.90" y="1051.10" width="318.70" height="233.00" fill="#d1e1cb" />
<line x1="357.10" y1="1052.10" x2="357.10" y2="1284.10" stroke="#c8334c" stroke-width="1.5" stroke-dasharray="3,1.5"/>
<polygon points="58.6,1231.5 59.1,1231.1 59.6,1234.5 60.1,1235.7 60.6,1236.8 61.1,1240.9 61.6,1241.5 62.1,1241.5 62.6,1240.9 63.1,1239.0 63.6,1240.5 64.1,1242.5 64.6,1241.2 65.1,1239.9 65.6,1245.7 66.1,1244.9 66.6,1246.2 67.1,1246.2 67.6,1255.2 68.1,1245.0 68.6,1243.9 69.1,1243.6 69.6,1253.9 70.1,1244.3 70.6,1242.1 71.1,1243.7 71.6,1238.3 72.1,1242.8 72.6,1238.0 73.1,1241.8 73.6,1242.4 74.1,1247.7 74.6,1244.3 75.1,1251.1 75.6,1236.9 76.1,1239.1 76.6,1238.8 77.1,1231.9 77.6,1232.2 78.1,1234.5 78.6,1237.3 79.1,1232.8 79.6,1232.9 80.1,1235.3 80.6,1234.7 81.1,1237.0 81.6,1244.8 82.1,1238.3 82.6,1234.0 83.1,1235.8 83.6,1239.2 84.1,1233.9 84.6,1234.1 85.1,1236.8 85.6,1232.2 86.1,1234.9 86.6,1239.3 87.1,1237.5 87.6,1244.8 88.1,1237.8 88.6,1237.9 89.1,1239.5 89.6,1239.7 90.1,1240.3 90.6,1249.3 91.1,1249.2 91.6,1259.7 92.1,1260.4 92.6,1256.6 93.1,1248.6 93.6,1256.5 94.1,1242.7 94.6,1247.0 95.1,1260.8 95.6,1251.7 96.1,1253.1 96.6,1252.2 97.1,1253.3 97.6,1252.2 98.1,1248.5 98.6,1252.6 99.1,1250.4 99.6,1253.4 100.1,1253.3 100.6,1253.9 101.1,1256.4 101.6,1250.5 102.1,1261.7 102.6,1255.2 103.1,1254.8 103.6,1258.0 104.1,1258.9 104.6,1266.1 105.1,1258.2 105.6,1265.9 106.1,1262.2 106.6,1256.0 107.1,1257.7 107.6,1255.0 108.1,1258.1 108.6,1259.5 109.1,1259.2 109.6,1260.5 110.1,1260.2 110.6,1254.2 111.1,1255.5 111.6,1262.2 112.1,1256.3 112.6,1254.7 113.1,1254.4 113.6,1256.9 114.1,1263.8 114.6,1261.0 115.1,1253.1 115.6,1252.0 116.1,1257.8 116.6,1253.3 117.1,1254.4 117.6,1254.3 118.1,1257.6 118.6,1255.4 119.1,1254.9 119.6,1248.5 120.1,1251.4 120.6,1261.1 121.1,1246.5 121.5,1284.1 58.6,1284.1" fill="#2c1a9c" />
<line x1="61.50" y1="1283.10" x2="61.50" y2="1262.00" stroke="#dcc0e8" stroke-width="0.9" />
<line x1="62.50" y1="1283.10" x2="62.50" y2="1265.00" stroke="#dcc0e8" stroke-width="0.9" />
<line x1="67.00" y1="1283.10" x2="67.00" y2="1270.00" stroke="#dcc0e8" stroke-width="0.9" />
<line x1="72.50" y1="1283.10" x2="72.50" y2="1266.00" stroke="#dcc0e8" stroke-width="0.9" />
<line x1="73.30" y1="1283.10" x2="73.30" y2="1268.00" stroke="#dcc0e8" stroke-width="0.9" />
<line x1="78.50" y1="1283.10" x2="78.50" y2="1272.00" stroke="#dcc0e8" stroke-width="0.9" />
<line x1="84.00" y1="1283.10" x2="84.00" y2="1270.00" stroke="#dcc0e8" stroke-width="0.9" />
<line x1="92.00" y1="1283.10" x2="92.00" y2="1274.00" stroke="#dcc0e8" stroke-width="0.9" />
<line x1="99.00" y1="1283.10" x2="99.00" y2="1272.00" stroke="#dcc0e8" stroke-width="0.9" />
<line x1="105.50" y1="1283.10" x2="105.50" y2="1276.00" stroke="#dcc0e8" stroke-width="0.9" />
<line x1="111.00" y1="1283.10" x2="111.00" y2="1274.00" stroke="#dcc0e8" stroke-width="0.9" />
<line x1="116.00" y1="1283.10" x2="116.00" y2="1277.00" stroke="#dcc0e8" stroke-width="0.9" />
<polyline points="121.5,1250.1 122.3,1256.4 123.1,1250.9 123.9,1244.4 124.7,1241.9 125.5,1240.8 126.3,1240.1 127.1,1241.4 127.9,1240.0 128.7,1239.2 129.5,1237.8 130.3,1234.1 131.1,1230.6 131.9,1223.8 132.7,1217.5 133.5,1210.0 134.3,1203.8 135.1,1197.2 135.9,1190.1 136.7,1182.6 137.5,1175.4 138.3,1168.2 139.1,1166.0 139.9,1161.1 140.7,1158.7 141.5,1154.3 142.3,1151.5 143.1,1151.3 143.9,1147.8 144.7,1147.1 145.5,1145.7 146.3,1144.0 147.1,1145.0 147.9,1143.0 148.7,1144.7 149.5,1145.0 150.3,1144.7 151.1,1145.0 151.9,1145.2 152.7,1147.5 153.5,1147.2 154.3,1149.2 155.1,1150.9 155.9,1150.7 156.7,1149.9 157.5,1151.4 158.3,1151.7 159.1,1151.3 159.9,1152.5 160.7,1153.6 161.5,1154.8 162.3,1156.7 163.1,1157.8 163.9,1159.4 164.7,1162.2 165.5,1162.8 166.3,1165.5 167.1,1166.5 167.9,1167.9 168.7,1169.3 169.5,1172.6 170.3,1173.2 171.1,1174.7 171.9,1175.0 172.7,1174.3 173.5,1173.8 174.3,1172.8 175.1,1173.1 175.9,1172.3 176.7,1172.1 177.5,1169.8 178.3,1168.7 179.1,1167.7 179.9,1166.6 180.7,1165.4 181.5,1165.5 182.3,1164.5 183.1,1163.6 183.9,1164.0 184.7,1161.9 185.5,1162.2 186.3,1160.5 187.1,1158.0 187.9,1156.3 188.7,1155.8 189.5,1160.0 190.3,1162.2 191.1,1166.6 191.9,1165.5 192.7,1166.2 193.5,1166.3 194.3,1165.9 195.1,1164.7 195.9,1164.3 196.7,1165.8 197.5,1165.4 198.3,1165.3 199.1,1164.3 199.9,1163.1 200.7,1163.6 201.5,1164.5 202.3,1162.7 203.1,1163.0 203.9,1162.3 204.7,1163.8 205.5,1162.6 206.3,1161.9 207.1,1162.3 207.9,1161.8 208.7,1162.1 209.5,1162.3 210.3,1162.3 211.1,1161.0 211.9,1161.7 212.7,1160.6 213.5,1161.2 214.3,1161.8 215.1,1160.5 215.9,1161.5 216.7,1160.1 217.5,1160.3 218.3,1160.9 219.1,1159.2 219.9,1160.1 220.7,1159.9 221.5,1160.1 222.3,1160.3 223.1,1159.6 223.9,1158.5 224.7,1158.2 225.5,1158.6 226.3,1158.0 227.1,1158.3 227.9,1157.2 228.7,1158.2 229.5,1157.5 230.3,1156.5 231.1,1156.5 231.9,1157.9 232.7,1157.5 233.5,1157.4 234.3,1156.2 235.1,1157.2 235.9,1155.4 236.7,1156.3 237.5,1156.5 238.3,1154.8 239.1,1154.2 239.9,1154.3 240.7,1154.0 241.5,1155.3 242.3,1154.8 243.1,1154.3 243.9,1153.4 244.7,1154.3 245.5,1153.2 246.3,1153.0 247.1,1153.8 247.9,1153.7 248.7,1153.9 249.5,1153.8 250.3,1152.2 251.1,1152.4 251.9,1151.9 252.7,1152.4 253.5,1151.4 254.3,1152.9 255.1,1152.3 255.9,1152.4 256.7,1151.6 257.5,1152.3 258.3,1152.0 259.1,1151.8 259.9,1151.6 260.7,1150.3 261.5,1150.4 262.3,1149.7 263.1,1150.9 263.9,1150.2 264.7,1151.0 265.5,1149.5 266.3,1149.6 267.1,1150.3 267.9,1150.4 268.7,1149.8 269.5,1149.9 270.3,1149.8 271.1,1148.3 271.9,1148.9 272.7,1147.6 273.5,1148.7 274.3,1149.0 275.1,1148.0 275.9,1147.1 276.7,1147.8 277.5,1146.6 278.3,1147.3 279.1,1146.3 279.9,1146.9 280.7,1147.5 281.5,1147.1 282.3,1147.2 283.1,1146.2 283.9,1146.0 284.7,1145.0 285.5,1146.3 286.3,1145.7 287.1,1145.2 287.9,1144.5 288.7,1145.3 289.5,1145.2 290.3,1145.9 291.1,1146.5 291.9,1147.8 292.7,1148.8 293.5,1151.9 294.3,1153.2 295.1,1155.5 295.9,1155.8 296.7,1155.8 297.5,1156.7 298.3,1158.5 299.1,1158.7 299.9,1159.6 300.7,1159.6 301.5,1155.9 302.3,1154.0 303.1,1152.4 303.9,1149.5 304.7,1145.8 305.5,1141.0 306.3,1136.1 307.1,1131.6 307.9,1130.1 308.7,1126.9 309.5,1125.4 310.3,1134.4 311.1,1146.1 311.9,1131.9 312.7,1122.9 313.5,1120.6 314.3,1116.5 315.1,1110.3 315.9,1109.9 316.7,1118.5 317.5,1124.8 318.3,1132.3 319.1,1134.3 319.9,1119.8 320.7,1114.7 321.5,1117.9 322.3,1120.1 323.1,1129.2 323.9,1135.8 324.7,1147.8 325.5,1159.3 326.3,1157.9 327.1,1149.8 327.9,1144.8 328.7,1140.7 329.5,1137.9 330.3,1136.9 331.1,1134.0 331.9,1131.4 332.7,1130.9 333.5,1132.3 334.3,1131.3 335.1,1130.8 335.9,1132.5 336.7,1130.8 337.5,1132.3 338.3,1130.9 339.1,1130.9 339.9,1132.1 340.7,1131.5 341.5,1131.2 342.3,1131.3 343.1,1130.0 343.9,1130.5 344.7,1129.4 345.5,1129.2 346.3,1128.9 347.1,1129.3 347.9,1130.1 348.7,1129.6 349.5,1130.9 350.3,1131.8 351.1,1131.6 351.9,1130.5 352.7,1130.1 353.5,1131.2 354.3,1131.5 355.1,1132.7 355.9,1132.1 356.7,1132.2" stroke="#2c1a9c" stroke-width="1.7" fill="none" stroke-linejoin="round" />
<line x1="305.50" y1="1137.69" x2="305.50" y2="1144.59" stroke="#2c1a9c" stroke-width="0.9" />
<line x1="305.95" y1="1135.10" x2="305.95" y2="1142.40" stroke="#2c1a9c" stroke-width="0.9" />
<line x1="306.40" y1="1133.50" x2="306.40" y2="1137.92" stroke="#2c1a9c" stroke-width="0.9" />
<line x1="306.85" y1="1133.42" x2="306.85" y2="1137.12" stroke="#2c1a9c" stroke-width="0.9" />
<line x1="307.30" y1="1127.66" x2="307.30" y2="1138.72" stroke="#2c1a9c" stroke-width="0.9" />
<line x1="307.75" y1="1129.03" x2="307.75" y2="1134.52" stroke="#2c1a9c" stroke-width="0.9" />
<line x1="308.20" y1="1126.32" x2="308.20" y2="1132.09" stroke="#2c1a9c" stroke-width="0.9" />
<line x1="308.65" y1="1126.42" x2="308.65" y2="1132.84" stroke="#2c1a9c" stroke-width="0.9" />
<line x1="309.10" y1="1125.30" x2="309.10" y2="1127.32" stroke="#2c1a9c" stroke-width="0.9" />
<line x1="309.55" y1="1122.74" x2="309.55" y2="1125.55" stroke="#2c1a9c" stroke-width="0.9" />
<line x1="310.00" y1="1128.40" x2="310.00" y2="1129.93" stroke="#2c1a9c" stroke-width="0.9" />
<line x1="310.45" y1="1135.41" x2="310.45" y2="1139.23" stroke="#2c1a9c" stroke-width="0.9" />
<line x1="310.90" y1="1143.46" x2="310.90" y2="1150.88" stroke="#2c1a9c" stroke-width="0.9" />
<line x1="311.35" y1="1139.47" x2="311.35" y2="1145.96" stroke="#2c1a9c" stroke-width="0.9" />
<line x1="311.80" y1="1131.81" x2="311.80" y2="1136.95" stroke="#2c1a9c" stroke-width="0.9" />
<line x1="312.25" y1="1124.84" x2="312.25" y2="1131.98" stroke="#2c1a9c" stroke-width="0.9" />
<line x1="312.70" y1="1123.07" x2="312.70" y2="1129.28" stroke="#2c1a9c" stroke-width="0.9" />
<line x1="313.15" y1="1118.79" x2="313.15" y2="1128.54" stroke="#2c1a9c" stroke-width="0.9" />
<line x1="313.60" y1="1116.21" x2="313.60" y2="1123.13" stroke="#2c1a9c" stroke-width="0.9" />
<line x1="314.05" y1="1113.02" x2="314.05" y2="1118.88" stroke="#2c1a9c" stroke-width="0.9" />
<line x1="314.50" y1="1112.57" x2="314.50" y2="1117.46" stroke="#2c1a9c" stroke-width="0.9" />
<line x1="314.95" y1="1108.33" x2="314.95" y2="1117.04" stroke="#2c1a9c" stroke-width="0.9" />
<line x1="315.40" y1="1108.65" x2="315.40" y2="1116.26" stroke="#2c1a9c" stroke-width="0.9" />
<line x1="315.85" y1="1105.81" x2="315.85" y2="1114.19" stroke="#2c1a9c" stroke-width="0.9" />
<line x1="316.30" y1="1109.75" x2="316.30" y2="1119.08" stroke="#2c1a9c" stroke-width="0.9" />
<line x1="316.75" y1="1116.81" x2="316.75" y2="1119.34" stroke="#2c1a9c" stroke-width="0.9" />
<line x1="317.20" y1="1122.65" x2="317.20" y2="1126.88" stroke="#2c1a9c" stroke-width="0.9" />
<line x1="317.65" y1="1123.11" x2="317.65" y2="1131.01" stroke="#2c1a9c" stroke-width="0.9" />
<line x1="318.10" y1="1126.42" x2="318.10" y2="1133.39" stroke="#2c1a9c" stroke-width="0.9" />
<line x1="318.55" y1="1130.26" x2="318.55" y2="1138.20" stroke="#2c1a9c" stroke-width="0.9" />
<line x1="319.00" y1="1131.86" x2="319.00" y2="1138.87" stroke="#2c1a9c" stroke-width="0.9" />
<line x1="319.45" y1="1123.73" x2="319.45" y2="1130.99" stroke="#2c1a9c" stroke-width="0.9" />
<line x1="319.90" y1="1118.65" x2="319.90" y2="1123.83" stroke="#2c1a9c" stroke-width="0.9" />
<line x1="320.35" y1="1110.72" x2="320.35" y2="1117.24" stroke="#2c1a9c" stroke-width="0.9" />
<line x1="320.80" y1="1110.72" x2="320.80" y2="1118.94" stroke="#2c1a9c" stroke-width="0.9" />
<line x1="321.25" y1="1116.07" x2="321.25" y2="1120.48" stroke="#2c1a9c" stroke-width="0.9" />
<line x1="321.70" y1="1116.43" x2="321.70" y2="1119.38" stroke="#2c1a9c" stroke-width="0.9" />
<line x1="322.15" y1="1115.11" x2="322.15" y2="1120.79" stroke="#2c1a9c" stroke-width="0.9" />
<line x1="322.60" y1="1120.08" x2="322.60" y2="1124.83" stroke="#2c1a9c" stroke-width="0.9" />
<line x1="323.05" y1="1125.49" x2="323.05" y2="1135.05" stroke="#2c1a9c" stroke-width="0.9" />
<line x1="323.50" y1="1132.06" x2="323.50" y2="1138.52" stroke="#2c1a9c" stroke-width="0.9" />
<line x1="323.95" y1="1136.91" x2="323.95" y2="1143.78" stroke="#2c1a9c" stroke-width="0.9" />
<polyline points="356.9,1133.6 357.5,1132.4 358.1,1133.5 358.7,1133.3 359.3,1132.7 359.9,1133.8 360.5,1134.5 361.1,1136.4 361.7,1134.3 362.3,1136.2 362.9,1136.4 363.5,1137.1 364.1,1138.2 364.7,1137.8 365.3,1137.2 365.9,1139.6 366.5,1138.7 367.1,1137.8 367.7,1139.0 368.3,1140.4 368.9,1137.9 369.5,1140.2 370.1,1139.9 370.7,1139.5 371.3,1139.4 371.9,1139.9 372.5,1140.9 373.1,1141.1 373.7,1141.9 374.3,1141.0 374.9,1142.4 375.5,1142.1 376.1,1143.3 376.7,1143.5 377.3,1141.8 377.9,1144.5 378.5,1143.2 379.1,1142.7 379.7,1142.6 380.3,1144.3 380.9,1143.6 381.5,1144.6 382.1,1143.3 382.7,1145.6 383.3,1143.7 383.9,1146.0 384.5,1144.7 385.1,1144.7 385.7,1145.5 386.3,1145.5 386.9,1145.8 387.5,1146.0 388.1,1147.5 388.7,1147.0 389.3,1145.0 389.9,1148.2 390.5,1145.1 391.1,1145.4 391.7,1148.2 392.3,1146.5 392.9,1145.7 393.5,1146.2 394.1,1147.4 394.7,1148.6 395.3,1145.9 395.9,1146.4 396.5,1146.0 397.1,1146.2 397.7,1147.1 398.3,1147.8 398.9,1149.4 399.5,1148.4 400.1,1149.2 400.7,1148.3 401.3,1149.5 401.9,1148.7 402.5,1147.3 403.1,1147.8 403.7,1148.2 404.3,1147.0 404.9,1149.8 405.5,1148.4 406.1,1147.5 406.7,1148.5 407.3,1149.7 407.9,1147.9 408.5,1149.0 409.1,1147.4 409.7,1148.0 410.3,1147.8 410.9,1149.0 411.5,1149.6 412.1,1148.1 412.7,1149.8 413.3,1149.5 413.9,1150.1 414.5,1151.0 415.1,1148.8 415.7,1151.1 416.3,1149.3 416.9,1149.5 417.5,1148.5 418.1,1148.2 418.7,1150.2 419.3,1148.4 419.9,1148.2 420.5,1148.5 421.1,1150.2 421.7,1149.1 422.3,1149.5 422.9,1151.3 423.5,1150.3 424.1,1149.4 424.7,1151.4 425.3,1152.6 425.9,1151.4 426.5,1151.0 427.1,1151.4 427.7,1152.1 428.3,1152.7 428.9,1152.6 429.5,1150.9 430.1,1152.8 430.7,1150.7 431.3,1150.9 431.9,1152.3 432.5,1151.3 433.1,1152.7 433.7,1151.9 434.3,1154.3 434.9,1152.7 435.5,1154.1 436.1,1154.6 436.7,1153.1 437.3,1154.3 437.9,1153.5 438.5,1153.3 439.1,1152.5 439.7,1154.4 440.3,1155.4 440.9,1154.8 441.5,1153.6 442.1,1154.5 442.7,1154.0 443.3,1154.3 443.9,1155.7 444.5,1153.2 445.1,1154.9 445.7,1155.2 446.3,1154.0 446.9,1156.2 447.5,1154.7 448.1,1155.3 448.7,1154.9 449.3,1156.2 449.9,1155.7 450.5,1156.7 451.1,1155.9 451.7,1157.2 452.3,1156.6 452.9,1155.1 453.5,1156.6 454.1,1155.9 454.7,1156.1 455.3,1158.4 455.9,1157.0 456.5,1157.9 457.1,1156.1 457.7,1157.8 458.3,1156.2 458.9,1156.6 459.5,1156.4 460.1,1156.2 460.7,1159.3 461.3,1159.6 461.9,1157.7 462.5,1156.6 463.1,1159.1 463.7,1159.0 464.3,1157.0 464.9,1159.6 465.5,1157.3 466.1,1158.0 466.7,1159.9 467.3,1160.0 467.9,1158.2 468.5,1159.2 469.1,1160.3 469.7,1159.7 470.3,1159.4 470.9,1158.4 471.5,1158.0 472.1,1158.5 472.7,1159.7 473.3,1160.0 473.9,1159.6 474.5,1160.3 475.1,1160.1 475.7,1160.4 476.3,1159.7 476.9,1161.2 477.5,1160.2 478.1,1161.5 478.7,1161.9 479.3,1161.4 479.9,1161.3 480.5,1161.1 481.1,1160.7 481.7,1159.7 482.3,1159.3 482.9,1161.2 483.5,1159.9 484.1,1161.2 484.7,1161.0 485.3,1161.3 485.9,1160.7 486.5,1160.2 487.1,1160.4 487.7,1161.8 488.3,1162.5 488.9,1160.7 489.5,1160.7 490.1,1161.2 490.7,1161.3 491.3,1162.0 491.9,1162.6 492.5,1162.7 493.1,1162.9 493.7,1162.7 494.3,1163.6 494.9,1162.0 495.5,1162.0 496.1,1162.8 496.7,1161.8 497.3,1163.6 497.9,1162.3 498.5,1162.9 499.1,1162.8 499.7,1162.4 500.3,1161.3 500.9,1162.3 501.5,1163.0 502.1,1164.7 502.7,1162.0 503.3,1164.7 503.9,1165.1 504.5,1164.5 505.1,1162.9 505.7,1162.1 506.3,1165.1 506.9,1162.4 507.5,1163.3 508.1,1165.6 508.7,1164.8 509.3,1165.4 509.9,1165.5 510.5,1163.3 511.1,1164.5 511.7,1163.2 512.3,1164.3 512.9,1164.8 513.5,1166.0 514.1,1164.2 514.7,1165.6 515.3,1163.9 515.9,1164.4 516.5,1163.8 517.1,1165.7 517.7,1165.8 518.3,1166.3 518.9,1165.4 519.5,1167.2 520.1,1166.6 520.7,1166.2 521.3,1167.3 521.9,1165.0 522.5,1165.5 523.1,1166.5 523.7,1166.8 524.3,1168.1 524.9,1167.3 525.5,1165.2 526.1,1168.4 526.7,1166.9 527.3,1166.1 527.9,1168.1 528.5,1167.8 529.1,1168.6 529.7,1167.7 530.3,1166.8 530.9,1167.7 531.5,1167.8 532.1,1167.5 532.7,1168.4 533.3,1167.0 533.9,1167.5 534.5,1167.1" stroke="#1f276c" stroke-width="2.3" fill="none" stroke-linejoin="round" />
<polygon points="535.0,1162.6 535.6,1164.8 536.2,1165.8 536.8,1164.6 537.4,1166.7 538.0,1165.7 538.6,1166.1 539.2,1164.8 539.8,1167.4 540.4,1165.3 541.0,1167.5 541.6,1165.2 542.2,1168.2 542.8,1167.3 543.4,1165.5 544.0,1167.8 544.6,1165.7 545.2,1166.8 545.8,1166.9 546.4,1166.9 547.0,1167.1 547.6,1166.5 548.2,1167.6 548.8,1166.6 549.4,1169.5 550.0,1167.9 550.6,1169.8 551.2,1169.1 551.8,1171.8 552.4,1171.9 553.0,1171.6 553.6,1172.6 554.2,1173.4 554.8,1173.9 555.4,1172.3 556.0,1173.5 556.6,1171.9 557.2,1173.5 557.8,1173.8 558.4,1175.5 559.0,1173.7 559.6,1177.3 560.2,1175.3 560.8,1177.3 561.4,1178.2 562.0,1180.3 562.6,1180.1 563.2,1178.9 563.8,1181.6 564.4,1180.5 565.0,1182.7 565.6,1182.5 566.2,1186.6 566.8,1186.8 567.4,1188.3 568.0,1190.6 568.6,1195.4 569.0,1209.1 568.4,1205.9 567.8,1205.0 567.2,1203.2 566.6,1202.2 566.0,1194.5 565.4,1195.2 564.8,1196.7 564.2,1194.6 563.6,1194.9 563.0,1194.0 562.4,1189.8 561.8,1188.7 561.2,1188.7 560.6,1188.6 560.0,1187.1 559.4,1187.1 558.8,1185.5 558.2,1184.4 557.6,1186.7 557.0,1187.5 556.4,1183.4 555.8,1182.4 555.2,1185.6 554.6,1181.1 554.0,1180.8 553.4,1182.3 552.8,1180.6 552.2,1182.9 551.6,1180.6 551.0,1180.1 550.4,1178.6 549.8,1176.1 549.2,1180.5 548.6,1177.5 548.0,1179.8 547.4,1175.2 546.8,1176.8 546.2,1177.1 545.6,1174.4 545.0,1173.6 544.4,1178.4 543.8,1178.1 543.2,1178.1 542.6,1175.1 542.0,1175.9 541.4,1174.7 540.8,1173.7 540.2,1171.5 539.6,1174.0 539.0,1172.4 538.4,1173.5 537.8,1169.3 537.2,1170.5 536.6,1169.1 536.0,1172.6 535.4,1170.6" fill="#1f276c" />
<line x1="568.90" y1="1188.00" x2="568.90" y2="1216.00" stroke="#1f276c" stroke-width="1.6" />
<line x1="543.80" y1="1168.85" x2="543.80" y2="1200.00" stroke="#1f276c" stroke-width="1.3" />
<line x1="549.60" y1="1170.39" x2="549.60" y2="1191.00" stroke="#1f276c" stroke-width="1.3" />
<line x1="546.50" y1="1169.57" x2="546.50" y2="1188.00" stroke="#1f276c" stroke-width="1.3" />
<line x1="561.30" y1="1180.18" x2="561.30" y2="1221.00" stroke="#1f276c" stroke-width="1.3" />
<line x1="567.20" y1="1190.45" x2="567.20" y2="1203.00" stroke="#1f276c" stroke-width="1.3" />
<line x1="555.00" y1="1174.37" x2="555.00" y2="1192.00" stroke="#1f276c" stroke-width="1.3" />
<line x1="563.50" y1="1182.59" x2="563.50" y2="1205.00" stroke="#1f276c" stroke-width="1.3" />
<polygon points="569.3,1205.0 569.3,1211.7 570.0,1209.8 570.7,1211.1 571.4,1211.2 572.1,1213.7 572.8,1212.8 573.5,1212.0 574.2,1212.7 574.9,1213.3 575.6,1212.6 576.3,1211.8 577.0,1215.2 577.7,1214.1 578.4,1212.3 579.1,1215.5 579.8,1212.0 580.5,1212.5 581.2,1213.5 581.9,1208.2 582.6,1216.0 583.3,1214.5 584.0,1213.5 584.7,1208.1 585.4,1213.2 586.1,1212.6 586.8,1212.6 587.5,1213.1 588.2,1211.8 588.9,1211.8 589.6,1215.9 590.3,1212.9 591.0,1213.9 591.7,1215.9 592.4,1211.5 593.1,1213.4 593.8,1213.5 594.5,1214.1 595.2,1211.7 595.9,1211.4 596.6,1215.7 597.3,1212.1 598.0,1215.5 598.7,1212.7 599.4,1215.8 600.1,1211.3 600.8,1213.9 601.5,1211.1 602.2,1211.7 602.9,1212.7 603.6,1212.9 604.3,1207.6 605.0,1216.5 605.7,1213.2 606.4,1211.5 607.1,1209.9 607.8,1212.2 608.5,1212.3 609.2,1213.3 609.9,1212.9 610.6,1213.2 611.3,1211.8 612.0,1211.8 612.7,1211.3 613.4,1215.1 614.1,1213.6 614.8,1212.0 615.5,1216.4 616.2,1209.7 616.9,1207.1 617.6,1211.7 618.3,1214.2 619.0,1213.9 619.7,1212.0 620.4,1213.7 621.1,1216.7 621.8,1211.7 622.5,1215.9 623.2,1213.6 623.9,1213.1 624.6,1211.7 625.3,1211.2 626.0,1212.2 626.7,1213.6 627.4,1212.2 628.1,1212.7 628.8,1215.9 629.5,1214.0 630.2,1213.6 630.9,1213.4 631.6,1207.5 632.3,1213.5 633.0,1213.7 633.7,1212.8 634.4,1211.1 635.1,1212.4 635.8,1213.3 636.5,1213.9 637.2,1216.4 637.9,1213.1 638.6,1212.1 639.3,1213.3 640.0,1212.3 640.7,1216.9 641.4,1208.9 642.1,1213.1 642.8,1213.9 643.5,1213.3 644.2,1215.5 644.9,1211.7 645.6,1211.8 646.3,1212.7 647.0,1213.2 647.7,1215.8 648.4,1211.9 649.1,1211.2 649.8,1212.4 650.5,1214.9 651.2,1213.1 651.9,1214.0 652.6,1212.8 653.3,1213.7 654.0,1214.3 654.7,1212.2 655.4,1211.0 656.1,1211.6 656.8,1217.0 657.5,1213.3 658.2,1214.7 658.9,1216.2 659.6,1216.8 660.3,1214.9 661.0,1214.9 661.7,1216.4 662.4,1212.1 663.1,1216.2 663.8,1213.5 664.5,1213.0 665.2,1211.9 665.9,1212.5 666.6,1212.4 667.3,1211.4 668.0,1213.0 668.7,1214.2 669.4,1211.1 670.1,1212.6 670.8,1209.4 671.5,1211.8 672.2,1213.1 672.9,1213.5 673.6,1211.1 674.3,1214.4 674.8,1284.1 568.6,1284.1" fill="#1f276c" />
<text x="62.30" y="1078.00" font-size="17.3" fill="#141414" >OSA 1</text>
<text x="369.30" y="1078.00" font-size="17.3" fill="#141414" >OSA 2</text>
<rect x="58.1" y="1051.1" width="617.5" height="233.0" fill="none" stroke="#000" stroke-width="2"/>
<line x1="50.30" y1="1051.10" x2="58.10" y2="1051.10" stroke="#000" stroke-width="2" />
<text x="37.35" y="1056.80" font-size="16.9" fill="#141414" >0</text>
<line x1="50.30" y1="1097.70" x2="58.10" y2="1097.70" stroke="#000" stroke-width="2" />
<text x="22.15" y="1103.40" font-size="16.9" fill="#141414" >−20</text>
<line x1="50.30" y1="1144.30" x2="58.10" y2="1144.30" stroke="#000" stroke-width="2" />
<text x="22.15" y="1150.00" font-size="16.9" fill="#141414" >−40</text>
<line x1="50.30" y1="1190.90" x2="58.10" y2="1190.90" stroke="#000" stroke-width="2" />
<text x="22.15" y="1196.60" font-size="16.9" fill="#141414" >−60</text>
<line x1="50.30" y1="1237.50" x2="58.10" y2="1237.50" stroke="#000" stroke-width="2" />
<text x="22.15" y="1243.20" font-size="16.9" fill="#141414" >−80</text>
<line x1="50.30" y1="1284.10" x2="58.10" y2="1284.10" stroke="#000" stroke-width="2" />
<text x="13.70" y="1289.80" font-size="16.9" fill="#141414" >−100</text>
<line x1="112.80" y1="1284.10" x2="112.80" y2="1291.50" stroke="#000" stroke-width="2" />
<text x="100.12" y="1307.70" font-size="16.9" fill="#141414" >500</text>
<line x1="204.67" y1="1284.10" x2="204.67" y2="1291.50" stroke="#000" stroke-width="2" />
<text x="187.77" y="1307.70" font-size="16.9" fill="#141414" >1000</text>
<line x1="296.53" y1="1284.10" x2="296.53" y2="1291.50" stroke="#000" stroke-width="2" />
<text x="279.63" y="1307.70" font-size="16.9" fill="#141414" >1500</text>
<line x1="388.40" y1="1284.10" x2="388.40" y2="1291.50" stroke="#000" stroke-width="2" />
<text x="369.60" y="1307.70" font-size="16.9" fill="#141414" >2000</text>
<line x1="480.26" y1="1284.10" x2="480.26" y2="1291.50" stroke="#000" stroke-width="2" />
<text x="464.60" y="1307.70" font-size="16.9" fill="#141414" >2500</text>
<line x1="572.12" y1="1284.10" x2="572.12" y2="1291.50" stroke="#000" stroke-width="2" />
<text x="555.23" y="1307.70" font-size="16.9" fill="#141414" >3000</text>
<line x1="663.99" y1="1284.10" x2="663.99" y2="1291.50" stroke="#000" stroke-width="2" />
<text x="643.70" y="1307.70" font-size="16.9" fill="#141414" >3500</text>
<text transform="translate(16.20,1228.03) rotate(-90)" font-size="17.3" fill="#141414">Intensity (dBm)</text>
<text x="287.90" y="1324.60" font-size="17.3" fill="#141414" >Wavelength (nm)</text>
</svg></body></html>
